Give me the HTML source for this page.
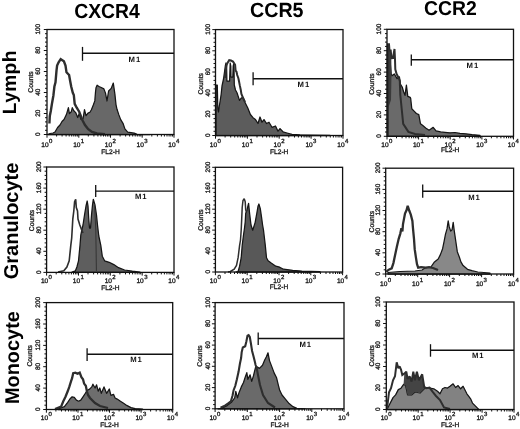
<!DOCTYPE html>
<html><head><meta charset="utf-8"><style>
html,body{margin:0;padding:0;background:#fff;overflow:hidden;}
svg{display:block;font-family:"Liberation Sans", sans-serif;will-change:transform;text-rendering:geometricPrecision;}
</style></head><body>
<svg width="520" height="429" viewBox="0 0 520 429">
<rect width="520" height="429" fill="#fff"/>
<polygon points="48.0,134.5 48.0,134.5 50.0,133.5 53.0,133.0 55.0,132.0 57.6,127.5 60.0,125.0 62.0,121.5 64.0,119.5 66.4,114.6 68.4,107.7 69.4,113.6 71.3,111.7 72.3,107.7 73.8,110.7 75.7,112.6 77.7,117.5 79.2,113.6 81.1,119.5 83.1,118.5 84.5,109.7 86.0,115.6 88.0,113.1 89.9,112.2 91.4,109.7 93.4,104.8 94.8,100.9 95.5,92.0 96.0,87.8 97.1,85.2 99.0,86.5 100.7,87.3 103.9,88.9 105.5,93.1 107.0,101.0 108.6,91.0 111.2,88.4 113.3,83.1 114.9,94.1 116.0,104.6 117.0,109.3 118.9,114.9 120.7,119.6 123.0,123.3 124.9,128.9 127.7,132.2 134.2,133.1 137.0,134.3 150.0,134.5 150.0,134.5" fill="#686868" stroke="#151515" stroke-width="1.25" stroke-linejoin="round"/>
<polyline points="49.4,123.5 49.8,116.0 50.8,111.0 51.9,104.0 53.4,95.5 54.4,86.5 55.5,82.3 56.5,70.7 57.1,65.5 58.6,62.3 60.7,59.2 63.9,61.3 65.5,65.5 66.5,72.3 69.1,75.0 70.2,81.2 71.2,86.5 72.8,92.8 73.8,95.0 74.7,103.8 76.7,107.7 79.2,111.7 81.1,116.6 82.6,120.5 85.0,125.0 88.0,129.0 92.0,132.0 97.0,133.5 105.0,134.3" fill="none" stroke="#2e2e2e" stroke-width="2.4" stroke-linejoin="miter" stroke-miterlimit="2"/>
<rect x="47" y="29.5" width="127" height="105.0" fill="none" stroke="#111" stroke-width="1.3"/>
<line x1="43.8" y1="134.5" x2="47" y2="134.5" stroke="#111" stroke-width="1"/>
<text x="0" y="0" transform="translate(40.3,134.2) rotate(-90)" font-size="6.5" text-anchor="middle" stroke="#222" stroke-width="0.32" fill="#111">0</text>
<line x1="45.0" y1="130.3" x2="47" y2="130.3" stroke="#111" stroke-width="1"/>
<line x1="45.0" y1="126.1" x2="47" y2="126.1" stroke="#111" stroke-width="1"/>
<line x1="45.0" y1="121.9" x2="47" y2="121.9" stroke="#111" stroke-width="1"/>
<line x1="45.0" y1="117.7" x2="47" y2="117.7" stroke="#111" stroke-width="1"/>
<line x1="43.8" y1="113.5" x2="47" y2="113.5" stroke="#111" stroke-width="1"/>
<text x="0" y="0" transform="translate(40.3,113.2) rotate(-90)" font-size="6.5" text-anchor="middle" stroke="#222" stroke-width="0.32" fill="#111">20</text>
<line x1="45.0" y1="109.3" x2="47" y2="109.3" stroke="#111" stroke-width="1"/>
<line x1="45.0" y1="105.1" x2="47" y2="105.1" stroke="#111" stroke-width="1"/>
<line x1="45.0" y1="100.9" x2="47" y2="100.9" stroke="#111" stroke-width="1"/>
<line x1="45.0" y1="96.7" x2="47" y2="96.7" stroke="#111" stroke-width="1"/>
<line x1="43.8" y1="92.5" x2="47" y2="92.5" stroke="#111" stroke-width="1"/>
<text x="0" y="0" transform="translate(40.3,92.2) rotate(-90)" font-size="6.5" text-anchor="middle" stroke="#222" stroke-width="0.32" fill="#111">40</text>
<line x1="45.0" y1="88.3" x2="47" y2="88.3" stroke="#111" stroke-width="1"/>
<line x1="45.0" y1="84.1" x2="47" y2="84.1" stroke="#111" stroke-width="1"/>
<line x1="45.0" y1="79.9" x2="47" y2="79.9" stroke="#111" stroke-width="1"/>
<line x1="45.0" y1="75.7" x2="47" y2="75.7" stroke="#111" stroke-width="1"/>
<line x1="43.8" y1="71.5" x2="47" y2="71.5" stroke="#111" stroke-width="1"/>
<text x="0" y="0" transform="translate(40.3,71.2) rotate(-90)" font-size="6.5" text-anchor="middle" stroke="#222" stroke-width="0.32" fill="#111">60</text>
<line x1="45.0" y1="67.3" x2="47" y2="67.3" stroke="#111" stroke-width="1"/>
<line x1="45.0" y1="63.1" x2="47" y2="63.1" stroke="#111" stroke-width="1"/>
<line x1="45.0" y1="58.9" x2="47" y2="58.9" stroke="#111" stroke-width="1"/>
<line x1="45.0" y1="54.7" x2="47" y2="54.7" stroke="#111" stroke-width="1"/>
<line x1="43.8" y1="50.5" x2="47" y2="50.5" stroke="#111" stroke-width="1"/>
<text x="0" y="0" transform="translate(40.3,50.2) rotate(-90)" font-size="6.5" text-anchor="middle" stroke="#222" stroke-width="0.32" fill="#111">80</text>
<line x1="45.0" y1="46.3" x2="47" y2="46.3" stroke="#111" stroke-width="1"/>
<line x1="45.0" y1="42.1" x2="47" y2="42.1" stroke="#111" stroke-width="1"/>
<line x1="45.0" y1="37.9" x2="47" y2="37.9" stroke="#111" stroke-width="1"/>
<line x1="45.0" y1="33.7" x2="47" y2="33.7" stroke="#111" stroke-width="1"/>
<line x1="43.8" y1="29.5" x2="47" y2="29.5" stroke="#111" stroke-width="1"/>
<text x="0" y="0" transform="translate(40.3,29.2) rotate(-90)" font-size="6.5" text-anchor="middle" stroke="#222" stroke-width="0.32" fill="#111">100</text>
<text x="0" y="0" transform="translate(32.5,82.0) rotate(-90)" font-size="6.8" text-anchor="middle" stroke="#222" stroke-width="0.32" fill="#111">Counts</text>
<line x1="47.0" y1="134.5" x2="47.0" y2="137.7" stroke="#111" stroke-width="1"/>
<line x1="56.6" y1="134.5" x2="56.6" y2="136.5" stroke="#111" stroke-width="1"/>
<line x1="62.1" y1="134.5" x2="62.1" y2="136.5" stroke="#111" stroke-width="1"/>
<line x1="66.1" y1="134.5" x2="66.1" y2="136.5" stroke="#111" stroke-width="1"/>
<line x1="69.2" y1="134.5" x2="69.2" y2="136.5" stroke="#111" stroke-width="1"/>
<line x1="71.7" y1="134.5" x2="71.7" y2="136.5" stroke="#111" stroke-width="1"/>
<line x1="73.8" y1="134.5" x2="73.8" y2="136.5" stroke="#111" stroke-width="1"/>
<line x1="75.7" y1="134.5" x2="75.7" y2="136.5" stroke="#111" stroke-width="1"/>
<line x1="77.3" y1="134.5" x2="77.3" y2="136.5" stroke="#111" stroke-width="1"/>
<line x1="78.8" y1="134.5" x2="78.8" y2="137.7" stroke="#111" stroke-width="1"/>
<line x1="88.3" y1="134.5" x2="88.3" y2="136.5" stroke="#111" stroke-width="1"/>
<line x1="93.9" y1="134.5" x2="93.9" y2="136.5" stroke="#111" stroke-width="1"/>
<line x1="97.9" y1="134.5" x2="97.9" y2="136.5" stroke="#111" stroke-width="1"/>
<line x1="100.9" y1="134.5" x2="100.9" y2="136.5" stroke="#111" stroke-width="1"/>
<line x1="103.5" y1="134.5" x2="103.5" y2="136.5" stroke="#111" stroke-width="1"/>
<line x1="105.6" y1="134.5" x2="105.6" y2="136.5" stroke="#111" stroke-width="1"/>
<line x1="107.4" y1="134.5" x2="107.4" y2="136.5" stroke="#111" stroke-width="1"/>
<line x1="109.0" y1="134.5" x2="109.0" y2="136.5" stroke="#111" stroke-width="1"/>
<line x1="110.5" y1="134.5" x2="110.5" y2="137.7" stroke="#111" stroke-width="1"/>
<line x1="120.1" y1="134.5" x2="120.1" y2="136.5" stroke="#111" stroke-width="1"/>
<line x1="125.6" y1="134.5" x2="125.6" y2="136.5" stroke="#111" stroke-width="1"/>
<line x1="129.6" y1="134.5" x2="129.6" y2="136.5" stroke="#111" stroke-width="1"/>
<line x1="132.7" y1="134.5" x2="132.7" y2="136.5" stroke="#111" stroke-width="1"/>
<line x1="135.2" y1="134.5" x2="135.2" y2="136.5" stroke="#111" stroke-width="1"/>
<line x1="137.3" y1="134.5" x2="137.3" y2="136.5" stroke="#111" stroke-width="1"/>
<line x1="139.2" y1="134.5" x2="139.2" y2="136.5" stroke="#111" stroke-width="1"/>
<line x1="140.8" y1="134.5" x2="140.8" y2="136.5" stroke="#111" stroke-width="1"/>
<line x1="142.2" y1="134.5" x2="142.2" y2="137.7" stroke="#111" stroke-width="1"/>
<line x1="151.8" y1="134.5" x2="151.8" y2="136.5" stroke="#111" stroke-width="1"/>
<line x1="157.4" y1="134.5" x2="157.4" y2="136.5" stroke="#111" stroke-width="1"/>
<line x1="161.4" y1="134.5" x2="161.4" y2="136.5" stroke="#111" stroke-width="1"/>
<line x1="164.4" y1="134.5" x2="164.4" y2="136.5" stroke="#111" stroke-width="1"/>
<line x1="167.0" y1="134.5" x2="167.0" y2="136.5" stroke="#111" stroke-width="1"/>
<line x1="169.1" y1="134.5" x2="169.1" y2="136.5" stroke="#111" stroke-width="1"/>
<line x1="170.9" y1="134.5" x2="170.9" y2="136.5" stroke="#111" stroke-width="1"/>
<line x1="172.5" y1="134.5" x2="172.5" y2="136.5" stroke="#111" stroke-width="1"/>
<line x1="174" y1="134.5" x2="174" y2="137.7" stroke="#111" stroke-width="1"/>
<text x="48.7" y="146.5" font-size="6.6" text-anchor="end" stroke="#222" stroke-width="0.32" fill="#111">10</text>
<text x="49.0" y="142.5" font-size="6.0" stroke="#222" stroke-width="0.32" fill="#111">0</text>
<text x="80.5" y="146.5" font-size="6.6" text-anchor="end" stroke="#222" stroke-width="0.32" fill="#111">10</text>
<text x="80.8" y="142.5" font-size="6.0" stroke="#222" stroke-width="0.32" fill="#111">1</text>
<text x="112.2" y="146.5" font-size="6.6" text-anchor="end" stroke="#222" stroke-width="0.32" fill="#111">10</text>
<text x="112.5" y="142.5" font-size="6.0" stroke="#222" stroke-width="0.32" fill="#111">2</text>
<text x="143.9" y="146.5" font-size="6.6" text-anchor="end" stroke="#222" stroke-width="0.32" fill="#111">10</text>
<text x="144.2" y="142.5" font-size="6.0" stroke="#222" stroke-width="0.32" fill="#111">3</text>
<text x="175.7" y="146.5" font-size="6.6" text-anchor="end" stroke="#222" stroke-width="0.32" fill="#111">10</text>
<text x="176.0" y="142.5" font-size="6.0" stroke="#222" stroke-width="0.32" fill="#111">4</text>
<text x="110.5" y="153.7" font-size="6.6" text-anchor="middle" stroke="#222" stroke-width="0.32" fill="#111">FL2-H</text>
<line x1="82.5" y1="46.9" x2="82.5" y2="60.8" stroke="#111" stroke-width="1.3"/>
<line x1="82.5" y1="53.3" x2="174" y2="53.3" stroke="#111" stroke-width="1.4"/>
<text x="128.6" y="61.7" font-size="7.7" font-weight="bold" letter-spacing="0.9" fill="#111">M1</text>
<polygon points="216.0,135.5 216.0,85.0 217.3,85.0 217.8,108.0 218.5,112.0 219.3,106.0 220.3,100.0 221.2,94.0 222.0,86.0 223.5,79.0 224.5,72.0 225.3,66.0 226.0,63.0 226.6,66.0 226.9,81.0 229.6,81.0 230.2,63.0 230.8,66.0 231.0,77.0 232.8,77.0 233.2,66.0 233.6,64.0 234.0,68.0 234.3,85.0 235.5,90.0 237.0,92.7 239.5,100.4 241.4,97.8 243.3,97.8 245.3,103.0 247.8,108.0 250.4,114.5 253.0,117.7 255.5,119.6 258.0,123.5 260.0,117.0 262.0,122.2 264.0,119.6 266.5,123.5 269.0,122.2 272.0,127.3 275.5,126.0 278.0,131.2 280.0,128.6 283.0,131.8 287.0,133.0 292.0,134.4 300.0,134.8 310.0,135.0 330.0,135.3 330.0,135.5" fill="#5c5c5c" stroke="#151515" stroke-width="1.25" stroke-linejoin="round"/>
<polyline points="225.3,78.0 225.6,72.5 226.2,66.5 227.2,63.4 229.2,60.2 231.0,60.5 233.0,61.6 235.1,64.8 235.6,70.7 236.5,71.8 237.2,75.0 238.3,78.0 238.8,80.2 239.8,85.4 240.8,90.0 241.4,94.0 243.5,99.0 245.0,102.0" fill="none" stroke="#2e2e2e" stroke-width="2.0" stroke-linejoin="miter" stroke-miterlimit="2"/>
<rect x="215.5" y="29.6" width="127.5" height="105.9" fill="none" stroke="#111" stroke-width="1.3"/>
<line x1="212.3" y1="135.5" x2="215.5" y2="135.5" stroke="#111" stroke-width="1"/>
<text x="0" y="0" transform="translate(210.0,135.2) rotate(-90)" font-size="6.5" text-anchor="middle" stroke="#222" stroke-width="0.32" fill="#111">0</text>
<line x1="213.5" y1="131.3" x2="215.5" y2="131.3" stroke="#111" stroke-width="1"/>
<line x1="213.5" y1="127.0" x2="215.5" y2="127.0" stroke="#111" stroke-width="1"/>
<line x1="213.5" y1="122.8" x2="215.5" y2="122.8" stroke="#111" stroke-width="1"/>
<line x1="213.5" y1="118.6" x2="215.5" y2="118.6" stroke="#111" stroke-width="1"/>
<line x1="212.3" y1="114.3" x2="215.5" y2="114.3" stroke="#111" stroke-width="1"/>
<text x="0" y="0" transform="translate(210.0,114.0) rotate(-90)" font-size="6.5" text-anchor="middle" stroke="#222" stroke-width="0.32" fill="#111">20</text>
<line x1="213.5" y1="110.1" x2="215.5" y2="110.1" stroke="#111" stroke-width="1"/>
<line x1="213.5" y1="105.8" x2="215.5" y2="105.8" stroke="#111" stroke-width="1"/>
<line x1="213.5" y1="101.6" x2="215.5" y2="101.6" stroke="#111" stroke-width="1"/>
<line x1="213.5" y1="97.4" x2="215.5" y2="97.4" stroke="#111" stroke-width="1"/>
<line x1="212.3" y1="93.1" x2="215.5" y2="93.1" stroke="#111" stroke-width="1"/>
<text x="0" y="0" transform="translate(210.0,92.8) rotate(-90)" font-size="6.5" text-anchor="middle" stroke="#222" stroke-width="0.32" fill="#111">40</text>
<line x1="213.5" y1="88.9" x2="215.5" y2="88.9" stroke="#111" stroke-width="1"/>
<line x1="213.5" y1="84.7" x2="215.5" y2="84.7" stroke="#111" stroke-width="1"/>
<line x1="213.5" y1="80.4" x2="215.5" y2="80.4" stroke="#111" stroke-width="1"/>
<line x1="213.5" y1="76.2" x2="215.5" y2="76.2" stroke="#111" stroke-width="1"/>
<line x1="212.3" y1="72.0" x2="215.5" y2="72.0" stroke="#111" stroke-width="1"/>
<text x="0" y="0" transform="translate(210.0,71.7) rotate(-90)" font-size="6.5" text-anchor="middle" stroke="#222" stroke-width="0.32" fill="#111">60</text>
<line x1="213.5" y1="67.7" x2="215.5" y2="67.7" stroke="#111" stroke-width="1"/>
<line x1="213.5" y1="63.5" x2="215.5" y2="63.5" stroke="#111" stroke-width="1"/>
<line x1="213.5" y1="59.3" x2="215.5" y2="59.3" stroke="#111" stroke-width="1"/>
<line x1="213.5" y1="55.0" x2="215.5" y2="55.0" stroke="#111" stroke-width="1"/>
<line x1="212.3" y1="50.8" x2="215.5" y2="50.8" stroke="#111" stroke-width="1"/>
<text x="0" y="0" transform="translate(210.0,50.5) rotate(-90)" font-size="6.5" text-anchor="middle" stroke="#222" stroke-width="0.32" fill="#111">80</text>
<line x1="213.5" y1="46.5" x2="215.5" y2="46.5" stroke="#111" stroke-width="1"/>
<line x1="213.5" y1="42.3" x2="215.5" y2="42.3" stroke="#111" stroke-width="1"/>
<line x1="213.5" y1="38.1" x2="215.5" y2="38.1" stroke="#111" stroke-width="1"/>
<line x1="213.5" y1="33.8" x2="215.5" y2="33.8" stroke="#111" stroke-width="1"/>
<line x1="212.3" y1="29.6" x2="215.5" y2="29.6" stroke="#111" stroke-width="1"/>
<text x="0" y="0" transform="translate(210.0,29.3) rotate(-90)" font-size="6.5" text-anchor="middle" stroke="#222" stroke-width="0.32" fill="#111">100</text>
<text x="0" y="0" transform="translate(202.5,83.8) rotate(-90)" font-size="6.8" text-anchor="middle" stroke="#222" stroke-width="0.32" fill="#111">Counts</text>
<line x1="215.5" y1="135.5" x2="215.5" y2="138.7" stroke="#111" stroke-width="1"/>
<line x1="225.1" y1="135.5" x2="225.1" y2="137.5" stroke="#111" stroke-width="1"/>
<line x1="230.7" y1="135.5" x2="230.7" y2="137.5" stroke="#111" stroke-width="1"/>
<line x1="234.7" y1="135.5" x2="234.7" y2="137.5" stroke="#111" stroke-width="1"/>
<line x1="237.8" y1="135.5" x2="237.8" y2="137.5" stroke="#111" stroke-width="1"/>
<line x1="240.3" y1="135.5" x2="240.3" y2="137.5" stroke="#111" stroke-width="1"/>
<line x1="242.4" y1="135.5" x2="242.4" y2="137.5" stroke="#111" stroke-width="1"/>
<line x1="244.3" y1="135.5" x2="244.3" y2="137.5" stroke="#111" stroke-width="1"/>
<line x1="245.9" y1="135.5" x2="245.9" y2="137.5" stroke="#111" stroke-width="1"/>
<line x1="247.4" y1="135.5" x2="247.4" y2="138.7" stroke="#111" stroke-width="1"/>
<line x1="257.0" y1="135.5" x2="257.0" y2="137.5" stroke="#111" stroke-width="1"/>
<line x1="262.6" y1="135.5" x2="262.6" y2="137.5" stroke="#111" stroke-width="1"/>
<line x1="266.6" y1="135.5" x2="266.6" y2="137.5" stroke="#111" stroke-width="1"/>
<line x1="269.7" y1="135.5" x2="269.7" y2="137.5" stroke="#111" stroke-width="1"/>
<line x1="272.2" y1="135.5" x2="272.2" y2="137.5" stroke="#111" stroke-width="1"/>
<line x1="274.3" y1="135.5" x2="274.3" y2="137.5" stroke="#111" stroke-width="1"/>
<line x1="276.2" y1="135.5" x2="276.2" y2="137.5" stroke="#111" stroke-width="1"/>
<line x1="277.8" y1="135.5" x2="277.8" y2="137.5" stroke="#111" stroke-width="1"/>
<line x1="279.2" y1="135.5" x2="279.2" y2="138.7" stroke="#111" stroke-width="1"/>
<line x1="288.8" y1="135.5" x2="288.8" y2="137.5" stroke="#111" stroke-width="1"/>
<line x1="294.5" y1="135.5" x2="294.5" y2="137.5" stroke="#111" stroke-width="1"/>
<line x1="298.4" y1="135.5" x2="298.4" y2="137.5" stroke="#111" stroke-width="1"/>
<line x1="301.5" y1="135.5" x2="301.5" y2="137.5" stroke="#111" stroke-width="1"/>
<line x1="304.1" y1="135.5" x2="304.1" y2="137.5" stroke="#111" stroke-width="1"/>
<line x1="306.2" y1="135.5" x2="306.2" y2="137.5" stroke="#111" stroke-width="1"/>
<line x1="308.0" y1="135.5" x2="308.0" y2="137.5" stroke="#111" stroke-width="1"/>
<line x1="309.7" y1="135.5" x2="309.7" y2="137.5" stroke="#111" stroke-width="1"/>
<line x1="311.1" y1="135.5" x2="311.1" y2="138.7" stroke="#111" stroke-width="1"/>
<line x1="320.7" y1="135.5" x2="320.7" y2="137.5" stroke="#111" stroke-width="1"/>
<line x1="326.3" y1="135.5" x2="326.3" y2="137.5" stroke="#111" stroke-width="1"/>
<line x1="330.3" y1="135.5" x2="330.3" y2="137.5" stroke="#111" stroke-width="1"/>
<line x1="333.4" y1="135.5" x2="333.4" y2="137.5" stroke="#111" stroke-width="1"/>
<line x1="335.9" y1="135.5" x2="335.9" y2="137.5" stroke="#111" stroke-width="1"/>
<line x1="338.1" y1="135.5" x2="338.1" y2="137.5" stroke="#111" stroke-width="1"/>
<line x1="339.9" y1="135.5" x2="339.9" y2="137.5" stroke="#111" stroke-width="1"/>
<line x1="341.5" y1="135.5" x2="341.5" y2="137.5" stroke="#111" stroke-width="1"/>
<line x1="343" y1="135.5" x2="343" y2="138.7" stroke="#111" stroke-width="1"/>
<text x="217.2" y="147.0" font-size="6.6" text-anchor="end" stroke="#222" stroke-width="0.32" fill="#111">10</text>
<text x="217.5" y="143.0" font-size="6.0" stroke="#222" stroke-width="0.32" fill="#111">0</text>
<text x="249.1" y="147.0" font-size="6.6" text-anchor="end" stroke="#222" stroke-width="0.32" fill="#111">10</text>
<text x="249.4" y="143.0" font-size="6.0" stroke="#222" stroke-width="0.32" fill="#111">1</text>
<text x="280.9" y="147.0" font-size="6.6" text-anchor="end" stroke="#222" stroke-width="0.32" fill="#111">10</text>
<text x="281.2" y="143.0" font-size="6.0" stroke="#222" stroke-width="0.32" fill="#111">2</text>
<text x="312.8" y="147.0" font-size="6.6" text-anchor="end" stroke="#222" stroke-width="0.32" fill="#111">10</text>
<text x="313.1" y="143.0" font-size="6.0" stroke="#222" stroke-width="0.32" fill="#111">3</text>
<text x="344.7" y="147.0" font-size="6.6" text-anchor="end" stroke="#222" stroke-width="0.32" fill="#111">10</text>
<text x="345.0" y="143.0" font-size="6.0" stroke="#222" stroke-width="0.32" fill="#111">4</text>
<text x="279.2" y="153.8" font-size="6.6" text-anchor="middle" stroke="#222" stroke-width="0.32" fill="#111">FL2-H</text>
<line x1="253.1" y1="72.3" x2="253.1" y2="85.2" stroke="#111" stroke-width="1.3"/>
<line x1="253.1" y1="78.8" x2="343" y2="78.8" stroke="#111" stroke-width="1.4"/>
<text x="297.59999999999997" y="87.1" font-size="7.7" font-weight="bold" letter-spacing="0.9" fill="#111">M1</text>
<polygon points="387.5,136.3 387.5,47.0 389.0,48.0 389.8,55.0 390.5,66.0 391.2,74.0 392.0,75.8 394.3,74.0 397.1,78.6 399.4,76.8 400.4,84.2 402.2,87.0 403.6,91.7 405.0,95.4 406.4,85.2 407.8,96.3 410.2,97.3 410.7,98.5 411.8,108.8 414.1,111.1 416.4,113.5 418.8,114.6 420.5,123.8 422.8,125.6 425.7,127.9 429.1,130.2 433.2,127.3 436.0,130.8 440.7,131.9 445.0,132.3 450.0,132.8 455.0,132.5 460.0,133.3 466.0,133.8 472.0,134.6 480.0,135.3 480.0,136.3" fill="#6a6a6a" stroke="#151515" stroke-width="1.25" stroke-linejoin="round"/>
<polygon points="387.5,44.5 389,44.5 389.5,50.5 390.7,50.5 391.3,57 391.5,75 391,100 387.5,110" fill="#3a3a3a"/>
<polyline points="387.8,136.0 387.8,44.2 389.0,44.2 389.5,50.5 390.7,50.5 391.5,58.2 393.0,58.0 394.5,49.0 395.0,59.6 395.3,69.3 396.6,74.0 398.7,77.8 399.8,81.0 400.3,95.0 403.2,123.8 408.4,131.9 415.0,134.0 425.0,135.0" fill="none" stroke="#2e2e2e" stroke-width="2.0" stroke-linejoin="miter" stroke-miterlimit="2"/>
<rect x="387" y="29.3" width="126.5" height="107.00000000000001" fill="none" stroke="#111" stroke-width="1.3"/>
<line x1="383.8" y1="136.3" x2="387" y2="136.3" stroke="#111" stroke-width="1"/>
<text x="0" y="0" transform="translate(381.4,136.0) rotate(-90)" font-size="6.5" text-anchor="middle" stroke="#222" stroke-width="0.32" fill="#111">0</text>
<line x1="385.0" y1="132.0" x2="387" y2="132.0" stroke="#111" stroke-width="1"/>
<line x1="385.0" y1="127.7" x2="387" y2="127.7" stroke="#111" stroke-width="1"/>
<line x1="385.0" y1="123.5" x2="387" y2="123.5" stroke="#111" stroke-width="1"/>
<line x1="385.0" y1="119.2" x2="387" y2="119.2" stroke="#111" stroke-width="1"/>
<line x1="383.8" y1="114.9" x2="387" y2="114.9" stroke="#111" stroke-width="1"/>
<text x="0" y="0" transform="translate(381.4,114.6) rotate(-90)" font-size="6.5" text-anchor="middle" stroke="#222" stroke-width="0.32" fill="#111">20</text>
<line x1="385.0" y1="110.6" x2="387" y2="110.6" stroke="#111" stroke-width="1"/>
<line x1="385.0" y1="106.3" x2="387" y2="106.3" stroke="#111" stroke-width="1"/>
<line x1="385.0" y1="102.1" x2="387" y2="102.1" stroke="#111" stroke-width="1"/>
<line x1="385.0" y1="97.8" x2="387" y2="97.8" stroke="#111" stroke-width="1"/>
<line x1="383.8" y1="93.5" x2="387" y2="93.5" stroke="#111" stroke-width="1"/>
<text x="0" y="0" transform="translate(381.4,93.2) rotate(-90)" font-size="6.5" text-anchor="middle" stroke="#222" stroke-width="0.32" fill="#111">40</text>
<line x1="385.0" y1="89.2" x2="387" y2="89.2" stroke="#111" stroke-width="1"/>
<line x1="385.0" y1="84.9" x2="387" y2="84.9" stroke="#111" stroke-width="1"/>
<line x1="385.0" y1="80.7" x2="387" y2="80.7" stroke="#111" stroke-width="1"/>
<line x1="385.0" y1="76.4" x2="387" y2="76.4" stroke="#111" stroke-width="1"/>
<line x1="383.8" y1="72.1" x2="387" y2="72.1" stroke="#111" stroke-width="1"/>
<text x="0" y="0" transform="translate(381.4,71.8) rotate(-90)" font-size="6.5" text-anchor="middle" stroke="#222" stroke-width="0.32" fill="#111">60</text>
<line x1="385.0" y1="67.8" x2="387" y2="67.8" stroke="#111" stroke-width="1"/>
<line x1="385.0" y1="63.5" x2="387" y2="63.5" stroke="#111" stroke-width="1"/>
<line x1="385.0" y1="59.3" x2="387" y2="59.3" stroke="#111" stroke-width="1"/>
<line x1="385.0" y1="55.0" x2="387" y2="55.0" stroke="#111" stroke-width="1"/>
<line x1="383.8" y1="50.7" x2="387" y2="50.7" stroke="#111" stroke-width="1"/>
<text x="0" y="0" transform="translate(381.4,50.4) rotate(-90)" font-size="6.5" text-anchor="middle" stroke="#222" stroke-width="0.32" fill="#111">80</text>
<line x1="385.0" y1="46.4" x2="387" y2="46.4" stroke="#111" stroke-width="1"/>
<line x1="385.0" y1="42.1" x2="387" y2="42.1" stroke="#111" stroke-width="1"/>
<line x1="385.0" y1="37.9" x2="387" y2="37.9" stroke="#111" stroke-width="1"/>
<line x1="385.0" y1="33.6" x2="387" y2="33.6" stroke="#111" stroke-width="1"/>
<line x1="383.8" y1="29.3" x2="387" y2="29.3" stroke="#111" stroke-width="1"/>
<text x="0" y="0" transform="translate(381.4,29.0) rotate(-90)" font-size="6.5" text-anchor="middle" stroke="#222" stroke-width="0.32" fill="#111">100</text>
<text x="0" y="0" transform="translate(374.3,84.1) rotate(-90)" font-size="6.8" text-anchor="middle" stroke="#222" stroke-width="0.32" fill="#111">Counts</text>
<line x1="387.0" y1="136.3" x2="387.0" y2="139.5" stroke="#111" stroke-width="1"/>
<line x1="396.5" y1="136.3" x2="396.5" y2="138.3" stroke="#111" stroke-width="1"/>
<line x1="402.1" y1="136.3" x2="402.1" y2="138.3" stroke="#111" stroke-width="1"/>
<line x1="406.0" y1="136.3" x2="406.0" y2="138.3" stroke="#111" stroke-width="1"/>
<line x1="409.1" y1="136.3" x2="409.1" y2="138.3" stroke="#111" stroke-width="1"/>
<line x1="411.6" y1="136.3" x2="411.6" y2="138.3" stroke="#111" stroke-width="1"/>
<line x1="413.7" y1="136.3" x2="413.7" y2="138.3" stroke="#111" stroke-width="1"/>
<line x1="415.6" y1="136.3" x2="415.6" y2="138.3" stroke="#111" stroke-width="1"/>
<line x1="417.2" y1="136.3" x2="417.2" y2="138.3" stroke="#111" stroke-width="1"/>
<line x1="418.6" y1="136.3" x2="418.6" y2="139.5" stroke="#111" stroke-width="1"/>
<line x1="428.1" y1="136.3" x2="428.1" y2="138.3" stroke="#111" stroke-width="1"/>
<line x1="433.7" y1="136.3" x2="433.7" y2="138.3" stroke="#111" stroke-width="1"/>
<line x1="437.7" y1="136.3" x2="437.7" y2="138.3" stroke="#111" stroke-width="1"/>
<line x1="440.7" y1="136.3" x2="440.7" y2="138.3" stroke="#111" stroke-width="1"/>
<line x1="443.2" y1="136.3" x2="443.2" y2="138.3" stroke="#111" stroke-width="1"/>
<line x1="445.4" y1="136.3" x2="445.4" y2="138.3" stroke="#111" stroke-width="1"/>
<line x1="447.2" y1="136.3" x2="447.2" y2="138.3" stroke="#111" stroke-width="1"/>
<line x1="448.8" y1="136.3" x2="448.8" y2="138.3" stroke="#111" stroke-width="1"/>
<line x1="450.2" y1="136.3" x2="450.2" y2="139.5" stroke="#111" stroke-width="1"/>
<line x1="459.8" y1="136.3" x2="459.8" y2="138.3" stroke="#111" stroke-width="1"/>
<line x1="465.3" y1="136.3" x2="465.3" y2="138.3" stroke="#111" stroke-width="1"/>
<line x1="469.3" y1="136.3" x2="469.3" y2="138.3" stroke="#111" stroke-width="1"/>
<line x1="472.4" y1="136.3" x2="472.4" y2="138.3" stroke="#111" stroke-width="1"/>
<line x1="474.9" y1="136.3" x2="474.9" y2="138.3" stroke="#111" stroke-width="1"/>
<line x1="477.0" y1="136.3" x2="477.0" y2="138.3" stroke="#111" stroke-width="1"/>
<line x1="478.8" y1="136.3" x2="478.8" y2="138.3" stroke="#111" stroke-width="1"/>
<line x1="480.4" y1="136.3" x2="480.4" y2="138.3" stroke="#111" stroke-width="1"/>
<line x1="481.9" y1="136.3" x2="481.9" y2="139.5" stroke="#111" stroke-width="1"/>
<line x1="491.4" y1="136.3" x2="491.4" y2="138.3" stroke="#111" stroke-width="1"/>
<line x1="497.0" y1="136.3" x2="497.0" y2="138.3" stroke="#111" stroke-width="1"/>
<line x1="500.9" y1="136.3" x2="500.9" y2="138.3" stroke="#111" stroke-width="1"/>
<line x1="504.0" y1="136.3" x2="504.0" y2="138.3" stroke="#111" stroke-width="1"/>
<line x1="506.5" y1="136.3" x2="506.5" y2="138.3" stroke="#111" stroke-width="1"/>
<line x1="508.6" y1="136.3" x2="508.6" y2="138.3" stroke="#111" stroke-width="1"/>
<line x1="510.4" y1="136.3" x2="510.4" y2="138.3" stroke="#111" stroke-width="1"/>
<line x1="512.1" y1="136.3" x2="512.1" y2="138.3" stroke="#111" stroke-width="1"/>
<line x1="513.5" y1="136.3" x2="513.5" y2="139.5" stroke="#111" stroke-width="1"/>
<text x="388.7" y="146.5" font-size="6.6" text-anchor="end" stroke="#222" stroke-width="0.32" fill="#111">10</text>
<text x="389.0" y="142.5" font-size="6.0" stroke="#222" stroke-width="0.32" fill="#111">0</text>
<text x="420.3" y="146.5" font-size="6.6" text-anchor="end" stroke="#222" stroke-width="0.32" fill="#111">10</text>
<text x="420.6" y="142.5" font-size="6.0" stroke="#222" stroke-width="0.32" fill="#111">1</text>
<text x="451.9" y="146.5" font-size="6.6" text-anchor="end" stroke="#222" stroke-width="0.32" fill="#111">10</text>
<text x="452.2" y="142.5" font-size="6.0" stroke="#222" stroke-width="0.32" fill="#111">2</text>
<text x="483.6" y="146.5" font-size="6.6" text-anchor="end" stroke="#222" stroke-width="0.32" fill="#111">10</text>
<text x="483.9" y="142.5" font-size="6.0" stroke="#222" stroke-width="0.32" fill="#111">3</text>
<text x="515.2" y="146.5" font-size="6.6" text-anchor="end" stroke="#222" stroke-width="0.32" fill="#111">10</text>
<text x="515.5" y="142.5" font-size="6.0" stroke="#222" stroke-width="0.32" fill="#111">4</text>
<text x="450.2" y="152.0" font-size="6.6" text-anchor="middle" stroke="#222" stroke-width="0.32" fill="#111">FL2-H</text>
<line x1="411.3" y1="54.5" x2="411.3" y2="65.7" stroke="#111" stroke-width="1.3"/>
<line x1="411.3" y1="59.8" x2="513.5" y2="59.8" stroke="#111" stroke-width="1.4"/>
<text x="466.59999999999997" y="67.8" font-size="7.7" font-weight="bold" letter-spacing="0.9" fill="#111">M1</text>
<polygon points="72.0,272.4 72.0,272.0 75.4,270.8 76.9,267.0 78.5,260.8 80.0,245.4 80.8,235.0 81.8,230.0 83.0,225.0 84.5,215.0 86.0,206.0 87.2,201.0 88.0,206.0 88.7,218.0 89.5,228.0 90.5,228.0 91.5,215.0 92.5,205.0 93.3,199.3 95.0,205.0 96.5,215.0 97.5,225.0 98.8,236.0 100.8,245.4 102.3,256.2 104.6,260.8 109.2,262.3 113.8,264.6 118.5,267.7 124.6,270.0 132.3,271.2 140.0,272.0 140.0,272.4" fill="#5e5e5e" stroke="#151515" stroke-width="1.25" stroke-linejoin="round"/>
<polyline points="94.5,204 95.8,230 96.4,271" fill="none" stroke="#333" stroke-width="1"/>
<polyline points="58.0,272.0 63.8,270.8 66.9,267.0 69.2,260.8 70.8,245.4 71.7,238.0 72.8,219.1 73.8,211.0 74.6,201.7 75.7,199.3 76.3,207.5 77.5,211.0 78.0,219.1 79.8,225.0 81.6,229.6 83.0,233.0" fill="none" stroke="#2e2e2e" stroke-width="1.6" stroke-linejoin="miter" stroke-miterlimit="2"/>
<rect x="46.6" y="167" width="127.4" height="105.39999999999998" fill="none" stroke="#111" stroke-width="1.3"/>
<line x1="43.4" y1="272.4" x2="46.6" y2="272.4" stroke="#111" stroke-width="1"/>
<text x="0" y="0" transform="translate(40.9,272.1) rotate(-90)" font-size="6.5" text-anchor="middle" stroke="#222" stroke-width="0.32" fill="#111">0</text>
<line x1="44.6" y1="268.2" x2="46.6" y2="268.2" stroke="#111" stroke-width="1"/>
<line x1="44.6" y1="264.0" x2="46.6" y2="264.0" stroke="#111" stroke-width="1"/>
<line x1="44.6" y1="259.8" x2="46.6" y2="259.8" stroke="#111" stroke-width="1"/>
<line x1="44.6" y1="255.5" x2="46.6" y2="255.5" stroke="#111" stroke-width="1"/>
<line x1="43.4" y1="251.3" x2="46.6" y2="251.3" stroke="#111" stroke-width="1"/>
<text x="0" y="0" transform="translate(40.9,251.0) rotate(-90)" font-size="6.5" text-anchor="middle" stroke="#222" stroke-width="0.32" fill="#111">40</text>
<line x1="44.6" y1="247.1" x2="46.6" y2="247.1" stroke="#111" stroke-width="1"/>
<line x1="44.6" y1="242.9" x2="46.6" y2="242.9" stroke="#111" stroke-width="1"/>
<line x1="44.6" y1="238.7" x2="46.6" y2="238.7" stroke="#111" stroke-width="1"/>
<line x1="44.6" y1="234.5" x2="46.6" y2="234.5" stroke="#111" stroke-width="1"/>
<line x1="43.4" y1="230.2" x2="46.6" y2="230.2" stroke="#111" stroke-width="1"/>
<text x="0" y="0" transform="translate(40.9,229.9) rotate(-90)" font-size="6.5" text-anchor="middle" stroke="#222" stroke-width="0.32" fill="#111">80</text>
<line x1="44.6" y1="226.0" x2="46.6" y2="226.0" stroke="#111" stroke-width="1"/>
<line x1="44.6" y1="221.8" x2="46.6" y2="221.8" stroke="#111" stroke-width="1"/>
<line x1="44.6" y1="217.6" x2="46.6" y2="217.6" stroke="#111" stroke-width="1"/>
<line x1="44.6" y1="213.4" x2="46.6" y2="213.4" stroke="#111" stroke-width="1"/>
<line x1="43.4" y1="209.2" x2="46.6" y2="209.2" stroke="#111" stroke-width="1"/>
<text x="0" y="0" transform="translate(40.9,208.9) rotate(-90)" font-size="6.5" text-anchor="middle" stroke="#222" stroke-width="0.32" fill="#111">120</text>
<line x1="44.6" y1="204.9" x2="46.6" y2="204.9" stroke="#111" stroke-width="1"/>
<line x1="44.6" y1="200.7" x2="46.6" y2="200.7" stroke="#111" stroke-width="1"/>
<line x1="44.6" y1="196.5" x2="46.6" y2="196.5" stroke="#111" stroke-width="1"/>
<line x1="44.6" y1="192.3" x2="46.6" y2="192.3" stroke="#111" stroke-width="1"/>
<line x1="43.4" y1="188.1" x2="46.6" y2="188.1" stroke="#111" stroke-width="1"/>
<text x="0" y="0" transform="translate(40.9,187.8) rotate(-90)" font-size="6.5" text-anchor="middle" stroke="#222" stroke-width="0.32" fill="#111">160</text>
<line x1="44.6" y1="183.9" x2="46.6" y2="183.9" stroke="#111" stroke-width="1"/>
<line x1="44.6" y1="179.6" x2="46.6" y2="179.6" stroke="#111" stroke-width="1"/>
<line x1="44.6" y1="175.4" x2="46.6" y2="175.4" stroke="#111" stroke-width="1"/>
<line x1="44.6" y1="171.2" x2="46.6" y2="171.2" stroke="#111" stroke-width="1"/>
<line x1="43.4" y1="167.0" x2="46.6" y2="167.0" stroke="#111" stroke-width="1"/>
<text x="0" y="0" transform="translate(40.9,166.7) rotate(-90)" font-size="6.5" text-anchor="middle" stroke="#222" stroke-width="0.32" fill="#111">200</text>
<text x="0" y="0" transform="translate(33.9,220.5) rotate(-90)" font-size="6.8" text-anchor="middle" stroke="#222" stroke-width="0.32" fill="#111">Counts</text>
<line x1="46.6" y1="272.4" x2="46.6" y2="275.6" stroke="#111" stroke-width="1"/>
<line x1="56.2" y1="272.4" x2="56.2" y2="274.4" stroke="#111" stroke-width="1"/>
<line x1="61.8" y1="272.4" x2="61.8" y2="274.4" stroke="#111" stroke-width="1"/>
<line x1="65.8" y1="272.4" x2="65.8" y2="274.4" stroke="#111" stroke-width="1"/>
<line x1="68.9" y1="272.4" x2="68.9" y2="274.4" stroke="#111" stroke-width="1"/>
<line x1="71.4" y1="272.4" x2="71.4" y2="274.4" stroke="#111" stroke-width="1"/>
<line x1="73.5" y1="272.4" x2="73.5" y2="274.4" stroke="#111" stroke-width="1"/>
<line x1="75.4" y1="272.4" x2="75.4" y2="274.4" stroke="#111" stroke-width="1"/>
<line x1="77.0" y1="272.4" x2="77.0" y2="274.4" stroke="#111" stroke-width="1"/>
<line x1="78.5" y1="272.4" x2="78.5" y2="275.6" stroke="#111" stroke-width="1"/>
<line x1="88.0" y1="272.4" x2="88.0" y2="274.4" stroke="#111" stroke-width="1"/>
<line x1="93.6" y1="272.4" x2="93.6" y2="274.4" stroke="#111" stroke-width="1"/>
<line x1="97.6" y1="272.4" x2="97.6" y2="274.4" stroke="#111" stroke-width="1"/>
<line x1="100.7" y1="272.4" x2="100.7" y2="274.4" stroke="#111" stroke-width="1"/>
<line x1="103.2" y1="272.4" x2="103.2" y2="274.4" stroke="#111" stroke-width="1"/>
<line x1="105.4" y1="272.4" x2="105.4" y2="274.4" stroke="#111" stroke-width="1"/>
<line x1="107.2" y1="272.4" x2="107.2" y2="274.4" stroke="#111" stroke-width="1"/>
<line x1="108.8" y1="272.4" x2="108.8" y2="274.4" stroke="#111" stroke-width="1"/>
<line x1="110.3" y1="272.4" x2="110.3" y2="275.6" stroke="#111" stroke-width="1"/>
<line x1="119.9" y1="272.4" x2="119.9" y2="274.4" stroke="#111" stroke-width="1"/>
<line x1="125.5" y1="272.4" x2="125.5" y2="274.4" stroke="#111" stroke-width="1"/>
<line x1="129.5" y1="272.4" x2="129.5" y2="274.4" stroke="#111" stroke-width="1"/>
<line x1="132.6" y1="272.4" x2="132.6" y2="274.4" stroke="#111" stroke-width="1"/>
<line x1="135.1" y1="272.4" x2="135.1" y2="274.4" stroke="#111" stroke-width="1"/>
<line x1="137.2" y1="272.4" x2="137.2" y2="274.4" stroke="#111" stroke-width="1"/>
<line x1="139.1" y1="272.4" x2="139.1" y2="274.4" stroke="#111" stroke-width="1"/>
<line x1="140.7" y1="272.4" x2="140.7" y2="274.4" stroke="#111" stroke-width="1"/>
<line x1="142.2" y1="272.4" x2="142.2" y2="275.6" stroke="#111" stroke-width="1"/>
<line x1="151.7" y1="272.4" x2="151.7" y2="274.4" stroke="#111" stroke-width="1"/>
<line x1="157.3" y1="272.4" x2="157.3" y2="274.4" stroke="#111" stroke-width="1"/>
<line x1="161.3" y1="272.4" x2="161.3" y2="274.4" stroke="#111" stroke-width="1"/>
<line x1="164.4" y1="272.4" x2="164.4" y2="274.4" stroke="#111" stroke-width="1"/>
<line x1="166.9" y1="272.4" x2="166.9" y2="274.4" stroke="#111" stroke-width="1"/>
<line x1="169.1" y1="272.4" x2="169.1" y2="274.4" stroke="#111" stroke-width="1"/>
<line x1="170.9" y1="272.4" x2="170.9" y2="274.4" stroke="#111" stroke-width="1"/>
<line x1="172.5" y1="272.4" x2="172.5" y2="274.4" stroke="#111" stroke-width="1"/>
<line x1="174" y1="272.4" x2="174" y2="275.6" stroke="#111" stroke-width="1"/>
<text x="48.3" y="283.0" font-size="6.6" text-anchor="end" stroke="#222" stroke-width="0.32" fill="#111">10</text>
<text x="48.6" y="279.0" font-size="6.0" stroke="#222" stroke-width="0.32" fill="#111">0</text>
<text x="80.2" y="283.0" font-size="6.6" text-anchor="end" stroke="#222" stroke-width="0.32" fill="#111">10</text>
<text x="80.5" y="279.0" font-size="6.0" stroke="#222" stroke-width="0.32" fill="#111">1</text>
<text x="112.0" y="283.0" font-size="6.6" text-anchor="end" stroke="#222" stroke-width="0.32" fill="#111">10</text>
<text x="112.3" y="279.0" font-size="6.0" stroke="#222" stroke-width="0.32" fill="#111">2</text>
<text x="143.8" y="283.0" font-size="6.6" text-anchor="end" stroke="#222" stroke-width="0.32" fill="#111">10</text>
<text x="144.2" y="279.0" font-size="6.0" stroke="#222" stroke-width="0.32" fill="#111">3</text>
<text x="175.7" y="283.0" font-size="6.6" text-anchor="end" stroke="#222" stroke-width="0.32" fill="#111">10</text>
<text x="176.0" y="279.0" font-size="6.0" stroke="#222" stroke-width="0.32" fill="#111">4</text>
<text x="110.3" y="289.7" font-size="6.6" text-anchor="middle" stroke="#222" stroke-width="0.32" fill="#111">FL2-H</text>
<line x1="95.7" y1="185" x2="95.7" y2="197.1" stroke="#111" stroke-width="1.3"/>
<line x1="95.7" y1="191.1" x2="174" y2="191.1" stroke="#111" stroke-width="1.4"/>
<text x="134.89999999999998" y="198.9" font-size="7.7" font-weight="bold" letter-spacing="0.9" fill="#111">M1</text>
<polygon points="236.0,272.0 236.0,272.0 238.1,271.5 239.6,266.2 241.2,257.7 242.2,245.4 243.5,235.0 244.5,228.0 245.2,222.0 245.7,213.3 246.9,210.4 248.1,205.2 248.6,203.4 249.6,213.3 251.0,225.0 252.7,230.2 255.1,222.6 256.8,213.3 258.0,206.3 258.9,204.0 260.3,208.6 261.5,216.8 262.6,225.0 263.5,230.0 265.3,245.4 266.5,257.7 268.1,260.8 271.2,263.1 275.8,266.2 278.8,266.9 283.5,269.2 292.7,270.3 301.9,271.0 320.0,271.5 320.0,272.0" fill="#585858" stroke="#151515" stroke-width="1.25" stroke-linejoin="round"/>
<polyline points="228.0,272.0 230.4,271.5 234.2,269.2 236.5,265.4 238.1,257.7 239.6,245.4 240.5,240.0 241.2,230.0 241.7,219.1 242.2,207.5 243.0,200.5 244.2,198.7 245.2,201.7 245.7,209.8 246.5,212.0" fill="none" stroke="#2e2e2e" stroke-width="1.5" stroke-linejoin="miter" stroke-miterlimit="2"/>
<rect x="215.4" y="167.3" width="127.20000000000002" height="104.69999999999999" fill="none" stroke="#111" stroke-width="1.3"/>
<line x1="212.2" y1="272.0" x2="215.4" y2="272.0" stroke="#111" stroke-width="1"/>
<text x="0" y="0" transform="translate(210.4,271.7) rotate(-90)" font-size="6.5" text-anchor="middle" stroke="#222" stroke-width="0.32" fill="#111">0</text>
<line x1="213.4" y1="267.8" x2="215.4" y2="267.8" stroke="#111" stroke-width="1"/>
<line x1="213.4" y1="263.6" x2="215.4" y2="263.6" stroke="#111" stroke-width="1"/>
<line x1="213.4" y1="259.4" x2="215.4" y2="259.4" stroke="#111" stroke-width="1"/>
<line x1="213.4" y1="255.2" x2="215.4" y2="255.2" stroke="#111" stroke-width="1"/>
<line x1="212.2" y1="251.1" x2="215.4" y2="251.1" stroke="#111" stroke-width="1"/>
<text x="0" y="0" transform="translate(210.4,250.8) rotate(-90)" font-size="6.5" text-anchor="middle" stroke="#222" stroke-width="0.32" fill="#111">40</text>
<line x1="213.4" y1="246.9" x2="215.4" y2="246.9" stroke="#111" stroke-width="1"/>
<line x1="213.4" y1="242.7" x2="215.4" y2="242.7" stroke="#111" stroke-width="1"/>
<line x1="213.4" y1="238.5" x2="215.4" y2="238.5" stroke="#111" stroke-width="1"/>
<line x1="213.4" y1="234.3" x2="215.4" y2="234.3" stroke="#111" stroke-width="1"/>
<line x1="212.2" y1="230.1" x2="215.4" y2="230.1" stroke="#111" stroke-width="1"/>
<text x="0" y="0" transform="translate(210.4,229.8) rotate(-90)" font-size="6.5" text-anchor="middle" stroke="#222" stroke-width="0.32" fill="#111">80</text>
<line x1="213.4" y1="225.9" x2="215.4" y2="225.9" stroke="#111" stroke-width="1"/>
<line x1="213.4" y1="221.7" x2="215.4" y2="221.7" stroke="#111" stroke-width="1"/>
<line x1="213.4" y1="217.6" x2="215.4" y2="217.6" stroke="#111" stroke-width="1"/>
<line x1="213.4" y1="213.4" x2="215.4" y2="213.4" stroke="#111" stroke-width="1"/>
<line x1="212.2" y1="209.2" x2="215.4" y2="209.2" stroke="#111" stroke-width="1"/>
<text x="0" y="0" transform="translate(210.4,208.9) rotate(-90)" font-size="6.5" text-anchor="middle" stroke="#222" stroke-width="0.32" fill="#111">120</text>
<line x1="213.4" y1="205.0" x2="215.4" y2="205.0" stroke="#111" stroke-width="1"/>
<line x1="213.4" y1="200.8" x2="215.4" y2="200.8" stroke="#111" stroke-width="1"/>
<line x1="213.4" y1="196.6" x2="215.4" y2="196.6" stroke="#111" stroke-width="1"/>
<line x1="213.4" y1="192.4" x2="215.4" y2="192.4" stroke="#111" stroke-width="1"/>
<line x1="212.2" y1="188.2" x2="215.4" y2="188.2" stroke="#111" stroke-width="1"/>
<text x="0" y="0" transform="translate(210.4,187.9) rotate(-90)" font-size="6.5" text-anchor="middle" stroke="#222" stroke-width="0.32" fill="#111">160</text>
<line x1="213.4" y1="184.1" x2="215.4" y2="184.1" stroke="#111" stroke-width="1"/>
<line x1="213.4" y1="179.9" x2="215.4" y2="179.9" stroke="#111" stroke-width="1"/>
<line x1="213.4" y1="175.7" x2="215.4" y2="175.7" stroke="#111" stroke-width="1"/>
<line x1="213.4" y1="171.5" x2="215.4" y2="171.5" stroke="#111" stroke-width="1"/>
<line x1="212.2" y1="167.3" x2="215.4" y2="167.3" stroke="#111" stroke-width="1"/>
<text x="0" y="0" transform="translate(210.4,167.0) rotate(-90)" font-size="6.5" text-anchor="middle" stroke="#222" stroke-width="0.32" fill="#111">200</text>
<text x="0" y="0" transform="translate(202.9,220.1) rotate(-90)" font-size="6.8" text-anchor="middle" stroke="#222" stroke-width="0.32" fill="#111">Counts</text>
<line x1="215.4" y1="272" x2="215.4" y2="275.2" stroke="#111" stroke-width="1"/>
<line x1="225.0" y1="272" x2="225.0" y2="274.0" stroke="#111" stroke-width="1"/>
<line x1="230.6" y1="272" x2="230.6" y2="274.0" stroke="#111" stroke-width="1"/>
<line x1="234.5" y1="272" x2="234.5" y2="274.0" stroke="#111" stroke-width="1"/>
<line x1="237.6" y1="272" x2="237.6" y2="274.0" stroke="#111" stroke-width="1"/>
<line x1="240.1" y1="272" x2="240.1" y2="274.0" stroke="#111" stroke-width="1"/>
<line x1="242.3" y1="272" x2="242.3" y2="274.0" stroke="#111" stroke-width="1"/>
<line x1="244.1" y1="272" x2="244.1" y2="274.0" stroke="#111" stroke-width="1"/>
<line x1="245.7" y1="272" x2="245.7" y2="274.0" stroke="#111" stroke-width="1"/>
<line x1="247.2" y1="272" x2="247.2" y2="275.2" stroke="#111" stroke-width="1"/>
<line x1="256.8" y1="272" x2="256.8" y2="274.0" stroke="#111" stroke-width="1"/>
<line x1="262.4" y1="272" x2="262.4" y2="274.0" stroke="#111" stroke-width="1"/>
<line x1="266.3" y1="272" x2="266.3" y2="274.0" stroke="#111" stroke-width="1"/>
<line x1="269.4" y1="272" x2="269.4" y2="274.0" stroke="#111" stroke-width="1"/>
<line x1="271.9" y1="272" x2="271.9" y2="274.0" stroke="#111" stroke-width="1"/>
<line x1="274.1" y1="272" x2="274.1" y2="274.0" stroke="#111" stroke-width="1"/>
<line x1="275.9" y1="272" x2="275.9" y2="274.0" stroke="#111" stroke-width="1"/>
<line x1="277.5" y1="272" x2="277.5" y2="274.0" stroke="#111" stroke-width="1"/>
<line x1="279.0" y1="272" x2="279.0" y2="275.2" stroke="#111" stroke-width="1"/>
<line x1="288.6" y1="272" x2="288.6" y2="274.0" stroke="#111" stroke-width="1"/>
<line x1="294.2" y1="272" x2="294.2" y2="274.0" stroke="#111" stroke-width="1"/>
<line x1="298.1" y1="272" x2="298.1" y2="274.0" stroke="#111" stroke-width="1"/>
<line x1="301.2" y1="272" x2="301.2" y2="274.0" stroke="#111" stroke-width="1"/>
<line x1="303.7" y1="272" x2="303.7" y2="274.0" stroke="#111" stroke-width="1"/>
<line x1="305.9" y1="272" x2="305.9" y2="274.0" stroke="#111" stroke-width="1"/>
<line x1="307.7" y1="272" x2="307.7" y2="274.0" stroke="#111" stroke-width="1"/>
<line x1="309.3" y1="272" x2="309.3" y2="274.0" stroke="#111" stroke-width="1"/>
<line x1="310.8" y1="272" x2="310.8" y2="275.2" stroke="#111" stroke-width="1"/>
<line x1="320.4" y1="272" x2="320.4" y2="274.0" stroke="#111" stroke-width="1"/>
<line x1="326.0" y1="272" x2="326.0" y2="274.0" stroke="#111" stroke-width="1"/>
<line x1="329.9" y1="272" x2="329.9" y2="274.0" stroke="#111" stroke-width="1"/>
<line x1="333.0" y1="272" x2="333.0" y2="274.0" stroke="#111" stroke-width="1"/>
<line x1="335.5" y1="272" x2="335.5" y2="274.0" stroke="#111" stroke-width="1"/>
<line x1="337.7" y1="272" x2="337.7" y2="274.0" stroke="#111" stroke-width="1"/>
<line x1="339.5" y1="272" x2="339.5" y2="274.0" stroke="#111" stroke-width="1"/>
<line x1="341.1" y1="272" x2="341.1" y2="274.0" stroke="#111" stroke-width="1"/>
<line x1="342.6" y1="272" x2="342.6" y2="275.2" stroke="#111" stroke-width="1"/>
<text x="217.1" y="282.6" font-size="6.6" text-anchor="end" stroke="#222" stroke-width="0.32" fill="#111">10</text>
<text x="217.4" y="278.6" font-size="6.0" stroke="#222" stroke-width="0.32" fill="#111">0</text>
<text x="248.9" y="282.6" font-size="6.6" text-anchor="end" stroke="#222" stroke-width="0.32" fill="#111">10</text>
<text x="249.2" y="278.6" font-size="6.0" stroke="#222" stroke-width="0.32" fill="#111">1</text>
<text x="280.7" y="282.6" font-size="6.6" text-anchor="end" stroke="#222" stroke-width="0.32" fill="#111">10</text>
<text x="281.0" y="278.6" font-size="6.0" stroke="#222" stroke-width="0.32" fill="#111">2</text>
<text x="312.5" y="282.6" font-size="6.6" text-anchor="end" stroke="#222" stroke-width="0.32" fill="#111">10</text>
<text x="312.8" y="278.6" font-size="6.0" stroke="#222" stroke-width="0.32" fill="#111">3</text>
<text x="344.3" y="282.6" font-size="6.6" text-anchor="end" stroke="#222" stroke-width="0.32" fill="#111">10</text>
<text x="344.6" y="278.6" font-size="6.0" stroke="#222" stroke-width="0.32" fill="#111">4</text>
<text x="279.0" y="288.8" font-size="6.6" text-anchor="middle" stroke="#222" stroke-width="0.32" fill="#111">FL2-H</text>
<polygon points="388.0,274.0 388.0,272.5 400.0,271.5 415.0,271.0 422.0,270.0 425.0,268.0 430.9,267.0 434.5,261.9 438.2,259.0 440.4,254.6 442.6,248.7 444.1,241.4 445.5,234.1 447.0,228.9 448.2,220.9 449.2,226.7 450.7,231.1 452.1,229.7 453.2,222.3 454.3,231.1 455.8,241.4 457.3,251.7 459.5,257.5 460.9,261.9 463.1,265.6 467.5,269.3 471.9,270.7 477.8,272.0 490.0,273.0 490.0,274.0" fill="#888888" stroke="#151515" stroke-width="1.25" stroke-linejoin="round"/>
<polyline points="386.5,272.0 387.6,270.6 389.3,269.4 391.7,268.3 393.4,263.1 395.1,255.0 396.8,246.9 398.7,238.8 400.3,233.6 401.4,228.3 402.4,231.5 403.0,224.1 404.0,218.9 405.0,213.6 406.6,210.0 407.7,205.8 409.2,210.5 410.8,214.7 412.4,221.0 412.9,227.3 414.0,238.8 414.7,249.2 415.9,257.3 417.0,264.2 418.2,267.7 421.1,267.1 425.7,267.7 429.1,267.1 433.0,268.0 438.0,270.0" fill="none" stroke="#2e2e2e" stroke-width="2.3" stroke-linejoin="miter" stroke-miterlimit="2"/>
<rect x="385.7" y="168.2" width="127.90000000000003" height="105.80000000000001" fill="none" stroke="#111" stroke-width="1.3"/>
<line x1="382.5" y1="274.0" x2="385.7" y2="274.0" stroke="#111" stroke-width="1"/>
<text x="0" y="0" transform="translate(380.4,273.7) rotate(-90)" font-size="6.5" text-anchor="middle" stroke="#222" stroke-width="0.32" fill="#111">0</text>
<line x1="383.7" y1="269.8" x2="385.7" y2="269.8" stroke="#111" stroke-width="1"/>
<line x1="383.7" y1="265.5" x2="385.7" y2="265.5" stroke="#111" stroke-width="1"/>
<line x1="383.7" y1="261.3" x2="385.7" y2="261.3" stroke="#111" stroke-width="1"/>
<line x1="383.7" y1="257.1" x2="385.7" y2="257.1" stroke="#111" stroke-width="1"/>
<line x1="382.5" y1="252.8" x2="385.7" y2="252.8" stroke="#111" stroke-width="1"/>
<text x="0" y="0" transform="translate(380.4,252.5) rotate(-90)" font-size="6.5" text-anchor="middle" stroke="#222" stroke-width="0.32" fill="#111">40</text>
<line x1="383.7" y1="248.6" x2="385.7" y2="248.6" stroke="#111" stroke-width="1"/>
<line x1="383.7" y1="244.4" x2="385.7" y2="244.4" stroke="#111" stroke-width="1"/>
<line x1="383.7" y1="240.1" x2="385.7" y2="240.1" stroke="#111" stroke-width="1"/>
<line x1="383.7" y1="235.9" x2="385.7" y2="235.9" stroke="#111" stroke-width="1"/>
<line x1="382.5" y1="231.7" x2="385.7" y2="231.7" stroke="#111" stroke-width="1"/>
<text x="0" y="0" transform="translate(380.4,231.4) rotate(-90)" font-size="6.5" text-anchor="middle" stroke="#222" stroke-width="0.32" fill="#111">80</text>
<line x1="383.7" y1="227.4" x2="385.7" y2="227.4" stroke="#111" stroke-width="1"/>
<line x1="383.7" y1="223.2" x2="385.7" y2="223.2" stroke="#111" stroke-width="1"/>
<line x1="383.7" y1="219.0" x2="385.7" y2="219.0" stroke="#111" stroke-width="1"/>
<line x1="383.7" y1="214.8" x2="385.7" y2="214.8" stroke="#111" stroke-width="1"/>
<line x1="382.5" y1="210.5" x2="385.7" y2="210.5" stroke="#111" stroke-width="1"/>
<text x="0" y="0" transform="translate(380.4,210.2) rotate(-90)" font-size="6.5" text-anchor="middle" stroke="#222" stroke-width="0.32" fill="#111">120</text>
<line x1="383.7" y1="206.3" x2="385.7" y2="206.3" stroke="#111" stroke-width="1"/>
<line x1="383.7" y1="202.1" x2="385.7" y2="202.1" stroke="#111" stroke-width="1"/>
<line x1="383.7" y1="197.8" x2="385.7" y2="197.8" stroke="#111" stroke-width="1"/>
<line x1="383.7" y1="193.6" x2="385.7" y2="193.6" stroke="#111" stroke-width="1"/>
<line x1="382.5" y1="189.4" x2="385.7" y2="189.4" stroke="#111" stroke-width="1"/>
<text x="0" y="0" transform="translate(380.4,189.1) rotate(-90)" font-size="6.5" text-anchor="middle" stroke="#222" stroke-width="0.32" fill="#111">160</text>
<line x1="383.7" y1="185.1" x2="385.7" y2="185.1" stroke="#111" stroke-width="1"/>
<line x1="383.7" y1="180.9" x2="385.7" y2="180.9" stroke="#111" stroke-width="1"/>
<line x1="383.7" y1="176.7" x2="385.7" y2="176.7" stroke="#111" stroke-width="1"/>
<line x1="383.7" y1="172.4" x2="385.7" y2="172.4" stroke="#111" stroke-width="1"/>
<line x1="382.5" y1="168.2" x2="385.7" y2="168.2" stroke="#111" stroke-width="1"/>
<text x="0" y="0" transform="translate(380.4,167.9) rotate(-90)" font-size="6.5" text-anchor="middle" stroke="#222" stroke-width="0.32" fill="#111">200</text>
<text x="0" y="0" transform="translate(373.9,221.7) rotate(-90)" font-size="6.8" text-anchor="middle" stroke="#222" stroke-width="0.32" fill="#111">Counts</text>
<line x1="385.7" y1="274" x2="385.7" y2="277.2" stroke="#111" stroke-width="1"/>
<line x1="395.3" y1="274" x2="395.3" y2="276.0" stroke="#111" stroke-width="1"/>
<line x1="401.0" y1="274" x2="401.0" y2="276.0" stroke="#111" stroke-width="1"/>
<line x1="405.0" y1="274" x2="405.0" y2="276.0" stroke="#111" stroke-width="1"/>
<line x1="408.0" y1="274" x2="408.0" y2="276.0" stroke="#111" stroke-width="1"/>
<line x1="410.6" y1="274" x2="410.6" y2="276.0" stroke="#111" stroke-width="1"/>
<line x1="412.7" y1="274" x2="412.7" y2="276.0" stroke="#111" stroke-width="1"/>
<line x1="414.6" y1="274" x2="414.6" y2="276.0" stroke="#111" stroke-width="1"/>
<line x1="416.2" y1="274" x2="416.2" y2="276.0" stroke="#111" stroke-width="1"/>
<line x1="417.7" y1="274" x2="417.7" y2="277.2" stroke="#111" stroke-width="1"/>
<line x1="427.3" y1="274" x2="427.3" y2="276.0" stroke="#111" stroke-width="1"/>
<line x1="432.9" y1="274" x2="432.9" y2="276.0" stroke="#111" stroke-width="1"/>
<line x1="436.9" y1="274" x2="436.9" y2="276.0" stroke="#111" stroke-width="1"/>
<line x1="440.0" y1="274" x2="440.0" y2="276.0" stroke="#111" stroke-width="1"/>
<line x1="442.6" y1="274" x2="442.6" y2="276.0" stroke="#111" stroke-width="1"/>
<line x1="444.7" y1="274" x2="444.7" y2="276.0" stroke="#111" stroke-width="1"/>
<line x1="446.6" y1="274" x2="446.6" y2="276.0" stroke="#111" stroke-width="1"/>
<line x1="448.2" y1="274" x2="448.2" y2="276.0" stroke="#111" stroke-width="1"/>
<line x1="449.6" y1="274" x2="449.6" y2="277.2" stroke="#111" stroke-width="1"/>
<line x1="459.3" y1="274" x2="459.3" y2="276.0" stroke="#111" stroke-width="1"/>
<line x1="464.9" y1="274" x2="464.9" y2="276.0" stroke="#111" stroke-width="1"/>
<line x1="468.9" y1="274" x2="468.9" y2="276.0" stroke="#111" stroke-width="1"/>
<line x1="472.0" y1="274" x2="472.0" y2="276.0" stroke="#111" stroke-width="1"/>
<line x1="474.5" y1="274" x2="474.5" y2="276.0" stroke="#111" stroke-width="1"/>
<line x1="476.7" y1="274" x2="476.7" y2="276.0" stroke="#111" stroke-width="1"/>
<line x1="478.5" y1="274" x2="478.5" y2="276.0" stroke="#111" stroke-width="1"/>
<line x1="480.2" y1="274" x2="480.2" y2="276.0" stroke="#111" stroke-width="1"/>
<line x1="481.6" y1="274" x2="481.6" y2="277.2" stroke="#111" stroke-width="1"/>
<line x1="491.3" y1="274" x2="491.3" y2="276.0" stroke="#111" stroke-width="1"/>
<line x1="496.9" y1="274" x2="496.9" y2="276.0" stroke="#111" stroke-width="1"/>
<line x1="500.9" y1="274" x2="500.9" y2="276.0" stroke="#111" stroke-width="1"/>
<line x1="504.0" y1="274" x2="504.0" y2="276.0" stroke="#111" stroke-width="1"/>
<line x1="506.5" y1="274" x2="506.5" y2="276.0" stroke="#111" stroke-width="1"/>
<line x1="508.6" y1="274" x2="508.6" y2="276.0" stroke="#111" stroke-width="1"/>
<line x1="510.5" y1="274" x2="510.5" y2="276.0" stroke="#111" stroke-width="1"/>
<line x1="512.1" y1="274" x2="512.1" y2="276.0" stroke="#111" stroke-width="1"/>
<line x1="513.6" y1="274" x2="513.6" y2="277.2" stroke="#111" stroke-width="1"/>
<text x="387.4" y="285.6" font-size="6.6" text-anchor="end" stroke="#222" stroke-width="0.32" fill="#111">10</text>
<text x="387.7" y="281.6" font-size="6.0" stroke="#222" stroke-width="0.32" fill="#111">0</text>
<text x="419.4" y="285.6" font-size="6.6" text-anchor="end" stroke="#222" stroke-width="0.32" fill="#111">10</text>
<text x="419.7" y="281.6" font-size="6.0" stroke="#222" stroke-width="0.32" fill="#111">1</text>
<text x="451.3" y="285.6" font-size="6.6" text-anchor="end" stroke="#222" stroke-width="0.32" fill="#111">10</text>
<text x="451.6" y="281.6" font-size="6.0" stroke="#222" stroke-width="0.32" fill="#111">2</text>
<text x="483.3" y="285.6" font-size="6.6" text-anchor="end" stroke="#222" stroke-width="0.32" fill="#111">10</text>
<text x="483.6" y="281.6" font-size="6.0" stroke="#222" stroke-width="0.32" fill="#111">3</text>
<text x="515.3" y="285.6" font-size="6.6" text-anchor="end" stroke="#222" stroke-width="0.32" fill="#111">10</text>
<text x="515.6" y="281.6" font-size="6.0" stroke="#222" stroke-width="0.32" fill="#111">4</text>
<line x1="422.7" y1="184.6" x2="422.7" y2="197.7" stroke="#111" stroke-width="1.3"/>
<line x1="422.7" y1="191.3" x2="513.6" y2="191.3" stroke="#111" stroke-width="1.4"/>
<text x="468.2" y="199.6" font-size="7.7" font-weight="bold" letter-spacing="0.9" fill="#111">M1</text>
<polygon points="58.0,409.5 58.0,409.0 64.4,406.7 67.7,402.3 69.9,399.0 72.1,396.8 74.3,397.3 76.4,400.1 78.6,401.2 80.8,400.1 83.0,396.8 85.2,393.5 87.4,390.2 89.6,389.1 91.8,386.9 92.9,384.2 95.1,388.0 96.6,384.8 98.2,391.2 99.8,388.0 101.3,393.3 104.0,386.9 106.6,393.3 109.3,389.0 110.9,395.4 113.5,394.3 115.1,398.0 117.2,399.1 120.4,401.2 123.6,403.3 126.7,405.4 131.0,407.6 135.2,408.6 142.6,409.0 142.6,409.5" fill="#6e6e6e" stroke="#151515" stroke-width="1.25" stroke-linejoin="round"/>
<polyline points="55.0,409.0 61.1,406.7 63.3,401.2 65.5,396.8 67.7,391.3 69.3,386.9 71.0,381.4 72.1,378.2 73.2,373.2 75.4,372.7 77.5,373.8 79.7,372.7 81.4,377.1 83.0,379.3 84.1,383.6 85.8,385.8 86.9,391.3 88.0,395.0 90.0,398.0 95.0,403.0 100.0,406.0 108.0,408.0" fill="none" stroke="#2e2e2e" stroke-width="2.3" stroke-linejoin="miter" stroke-miterlimit="2"/>
<rect x="46.4" y="302.6" width="126.29999999999998" height="106.89999999999998" fill="none" stroke="#111" stroke-width="1.3"/>
<line x1="43.2" y1="409.5" x2="46.4" y2="409.5" stroke="#111" stroke-width="1"/>
<text x="0" y="0" transform="translate(40.0,409.2) rotate(-90)" font-size="6.5" text-anchor="middle" stroke="#222" stroke-width="0.32" fill="#111">0</text>
<line x1="44.4" y1="405.2" x2="46.4" y2="405.2" stroke="#111" stroke-width="1"/>
<line x1="44.4" y1="400.9" x2="46.4" y2="400.9" stroke="#111" stroke-width="1"/>
<line x1="44.4" y1="396.7" x2="46.4" y2="396.7" stroke="#111" stroke-width="1"/>
<line x1="44.4" y1="392.4" x2="46.4" y2="392.4" stroke="#111" stroke-width="1"/>
<line x1="43.2" y1="388.1" x2="46.4" y2="388.1" stroke="#111" stroke-width="1"/>
<text x="0" y="0" transform="translate(40.0,387.8) rotate(-90)" font-size="6.5" text-anchor="middle" stroke="#222" stroke-width="0.32" fill="#111">40</text>
<line x1="44.4" y1="383.8" x2="46.4" y2="383.8" stroke="#111" stroke-width="1"/>
<line x1="44.4" y1="379.6" x2="46.4" y2="379.6" stroke="#111" stroke-width="1"/>
<line x1="44.4" y1="375.3" x2="46.4" y2="375.3" stroke="#111" stroke-width="1"/>
<line x1="44.4" y1="371.0" x2="46.4" y2="371.0" stroke="#111" stroke-width="1"/>
<line x1="43.2" y1="366.7" x2="46.4" y2="366.7" stroke="#111" stroke-width="1"/>
<text x="0" y="0" transform="translate(40.0,366.4) rotate(-90)" font-size="6.5" text-anchor="middle" stroke="#222" stroke-width="0.32" fill="#111">80</text>
<line x1="44.4" y1="362.5" x2="46.4" y2="362.5" stroke="#111" stroke-width="1"/>
<line x1="44.4" y1="358.2" x2="46.4" y2="358.2" stroke="#111" stroke-width="1"/>
<line x1="44.4" y1="353.9" x2="46.4" y2="353.9" stroke="#111" stroke-width="1"/>
<line x1="44.4" y1="349.6" x2="46.4" y2="349.6" stroke="#111" stroke-width="1"/>
<line x1="43.2" y1="345.4" x2="46.4" y2="345.4" stroke="#111" stroke-width="1"/>
<text x="0" y="0" transform="translate(40.0,345.1) rotate(-90)" font-size="6.5" text-anchor="middle" stroke="#222" stroke-width="0.32" fill="#111">120</text>
<line x1="44.4" y1="341.1" x2="46.4" y2="341.1" stroke="#111" stroke-width="1"/>
<line x1="44.4" y1="336.8" x2="46.4" y2="336.8" stroke="#111" stroke-width="1"/>
<line x1="44.4" y1="332.5" x2="46.4" y2="332.5" stroke="#111" stroke-width="1"/>
<line x1="44.4" y1="328.3" x2="46.4" y2="328.3" stroke="#111" stroke-width="1"/>
<line x1="43.2" y1="324.0" x2="46.4" y2="324.0" stroke="#111" stroke-width="1"/>
<text x="0" y="0" transform="translate(40.0,323.7) rotate(-90)" font-size="6.5" text-anchor="middle" stroke="#222" stroke-width="0.32" fill="#111">160</text>
<line x1="44.4" y1="319.7" x2="46.4" y2="319.7" stroke="#111" stroke-width="1"/>
<line x1="44.4" y1="315.4" x2="46.4" y2="315.4" stroke="#111" stroke-width="1"/>
<line x1="44.4" y1="311.2" x2="46.4" y2="311.2" stroke="#111" stroke-width="1"/>
<line x1="44.4" y1="306.9" x2="46.4" y2="306.9" stroke="#111" stroke-width="1"/>
<line x1="43.2" y1="302.6" x2="46.4" y2="302.6" stroke="#111" stroke-width="1"/>
<text x="0" y="0" transform="translate(40.0,302.3) rotate(-90)" font-size="6.5" text-anchor="middle" stroke="#222" stroke-width="0.32" fill="#111">200</text>
<text x="0" y="0" transform="translate(32.0,355.8) rotate(-90)" font-size="6.8" text-anchor="middle" stroke="#222" stroke-width="0.32" fill="#111">Counts</text>
<line x1="46.4" y1="409.5" x2="46.4" y2="412.7" stroke="#111" stroke-width="1"/>
<line x1="55.9" y1="409.5" x2="55.9" y2="411.5" stroke="#111" stroke-width="1"/>
<line x1="61.5" y1="409.5" x2="61.5" y2="411.5" stroke="#111" stroke-width="1"/>
<line x1="65.4" y1="409.5" x2="65.4" y2="411.5" stroke="#111" stroke-width="1"/>
<line x1="68.5" y1="409.5" x2="68.5" y2="411.5" stroke="#111" stroke-width="1"/>
<line x1="71.0" y1="409.5" x2="71.0" y2="411.5" stroke="#111" stroke-width="1"/>
<line x1="73.1" y1="409.5" x2="73.1" y2="411.5" stroke="#111" stroke-width="1"/>
<line x1="74.9" y1="409.5" x2="74.9" y2="411.5" stroke="#111" stroke-width="1"/>
<line x1="76.5" y1="409.5" x2="76.5" y2="411.5" stroke="#111" stroke-width="1"/>
<line x1="78.0" y1="409.5" x2="78.0" y2="412.7" stroke="#111" stroke-width="1"/>
<line x1="87.5" y1="409.5" x2="87.5" y2="411.5" stroke="#111" stroke-width="1"/>
<line x1="93.0" y1="409.5" x2="93.0" y2="411.5" stroke="#111" stroke-width="1"/>
<line x1="97.0" y1="409.5" x2="97.0" y2="411.5" stroke="#111" stroke-width="1"/>
<line x1="100.0" y1="409.5" x2="100.0" y2="411.5" stroke="#111" stroke-width="1"/>
<line x1="102.5" y1="409.5" x2="102.5" y2="411.5" stroke="#111" stroke-width="1"/>
<line x1="104.7" y1="409.5" x2="104.7" y2="411.5" stroke="#111" stroke-width="1"/>
<line x1="106.5" y1="409.5" x2="106.5" y2="411.5" stroke="#111" stroke-width="1"/>
<line x1="108.1" y1="409.5" x2="108.1" y2="411.5" stroke="#111" stroke-width="1"/>
<line x1="109.5" y1="409.5" x2="109.5" y2="412.7" stroke="#111" stroke-width="1"/>
<line x1="119.1" y1="409.5" x2="119.1" y2="411.5" stroke="#111" stroke-width="1"/>
<line x1="124.6" y1="409.5" x2="124.6" y2="411.5" stroke="#111" stroke-width="1"/>
<line x1="128.6" y1="409.5" x2="128.6" y2="411.5" stroke="#111" stroke-width="1"/>
<line x1="131.6" y1="409.5" x2="131.6" y2="411.5" stroke="#111" stroke-width="1"/>
<line x1="134.1" y1="409.5" x2="134.1" y2="411.5" stroke="#111" stroke-width="1"/>
<line x1="136.2" y1="409.5" x2="136.2" y2="411.5" stroke="#111" stroke-width="1"/>
<line x1="138.1" y1="409.5" x2="138.1" y2="411.5" stroke="#111" stroke-width="1"/>
<line x1="139.7" y1="409.5" x2="139.7" y2="411.5" stroke="#111" stroke-width="1"/>
<line x1="141.1" y1="409.5" x2="141.1" y2="412.7" stroke="#111" stroke-width="1"/>
<line x1="150.6" y1="409.5" x2="150.6" y2="411.5" stroke="#111" stroke-width="1"/>
<line x1="156.2" y1="409.5" x2="156.2" y2="411.5" stroke="#111" stroke-width="1"/>
<line x1="160.1" y1="409.5" x2="160.1" y2="411.5" stroke="#111" stroke-width="1"/>
<line x1="163.2" y1="409.5" x2="163.2" y2="411.5" stroke="#111" stroke-width="1"/>
<line x1="165.7" y1="409.5" x2="165.7" y2="411.5" stroke="#111" stroke-width="1"/>
<line x1="167.8" y1="409.5" x2="167.8" y2="411.5" stroke="#111" stroke-width="1"/>
<line x1="169.6" y1="409.5" x2="169.6" y2="411.5" stroke="#111" stroke-width="1"/>
<line x1="171.3" y1="409.5" x2="171.3" y2="411.5" stroke="#111" stroke-width="1"/>
<line x1="172.7" y1="409.5" x2="172.7" y2="412.7" stroke="#111" stroke-width="1"/>
<text x="48.1" y="420.4" font-size="6.6" text-anchor="end" stroke="#222" stroke-width="0.32" fill="#111">10</text>
<text x="48.4" y="416.4" font-size="6.0" stroke="#222" stroke-width="0.32" fill="#111">0</text>
<text x="79.7" y="420.4" font-size="6.6" text-anchor="end" stroke="#222" stroke-width="0.32" fill="#111">10</text>
<text x="80.0" y="416.4" font-size="6.0" stroke="#222" stroke-width="0.32" fill="#111">1</text>
<text x="111.2" y="420.4" font-size="6.6" text-anchor="end" stroke="#222" stroke-width="0.32" fill="#111">10</text>
<text x="111.5" y="416.4" font-size="6.0" stroke="#222" stroke-width="0.32" fill="#111">2</text>
<text x="142.8" y="420.4" font-size="6.6" text-anchor="end" stroke="#222" stroke-width="0.32" fill="#111">10</text>
<text x="143.1" y="416.4" font-size="6.0" stroke="#222" stroke-width="0.32" fill="#111">3</text>
<text x="174.4" y="420.4" font-size="6.6" text-anchor="end" stroke="#222" stroke-width="0.32" fill="#111">10</text>
<text x="174.7" y="416.4" font-size="6.0" stroke="#222" stroke-width="0.32" fill="#111">4</text>
<text x="109.5" y="427.1" font-size="6.6" text-anchor="middle" stroke="#222" stroke-width="0.32" fill="#111">FL2-H</text>
<line x1="87.1" y1="348.2" x2="87.1" y2="361" stroke="#111" stroke-width="1.3"/>
<line x1="87.1" y1="354.2" x2="172.7" y2="354.2" stroke="#111" stroke-width="1.4"/>
<text x="130.2" y="362.4" font-size="7.7" font-weight="bold" letter-spacing="0.9" fill="#111">M1</text>
<polygon points="218.0,408.8 218.0,408.8 221.6,408.3 227.1,405.6 231.4,402.3 234.7,397.9 235.8,391.3 237.5,397.9 239.1,392.4 241.3,386.9 243.5,382.5 245.2,377.1 246.8,372.7 247.9,379.3 250.1,374.9 251.7,381.4 253.4,376.0 255.6,367.2 257.0,366.9 259.4,368.4 262.5,365.3 264.8,359.8 266.4,356.7 268.0,352.8 269.5,360.6 271.9,366.9 274.2,373.1 276.6,377.8 278.1,384.1 279.7,390.3 282.0,395.0 285.2,398.9 289.1,403.6 293.0,406.7 296.9,408.3 305.0,408.8 305.0,408.8" fill="#6a6a6a" stroke="#151515" stroke-width="1.25" stroke-linejoin="round"/>
<polyline points="220.5,407.8 224.9,405.6 228.2,403.4 230.9,401.2 232.5,395.7 233.6,390.2 235.3,385.8 236.9,379.3 238.6,371.6 239.9,363.8 241.1,358.0 241.7,352.1 242.8,347.5 245.2,346.3 246.3,341.7 247.5,335.8 248.6,335.2 249.8,337.0 251.0,344.0 252.1,351.0 253.3,355.6 254.5,360.3 255.6,365.0 256.8,368.5 258.0,375.0 260.0,385.0 263.0,395.0 268.0,403.0 275.0,407.5" fill="none" stroke="#2e2e2e" stroke-width="2.1" stroke-linejoin="miter" stroke-miterlimit="2"/>
<rect x="215.1" y="302.6" width="128.9" height="106.19999999999999" fill="none" stroke="#111" stroke-width="1.3"/>
<line x1="211.9" y1="408.8" x2="215.1" y2="408.8" stroke="#111" stroke-width="1"/>
<text x="0" y="0" transform="translate(210.0,408.5) rotate(-90)" font-size="6.5" text-anchor="middle" stroke="#222" stroke-width="0.32" fill="#111">0</text>
<line x1="213.1" y1="404.6" x2="215.1" y2="404.6" stroke="#111" stroke-width="1"/>
<line x1="213.1" y1="400.3" x2="215.1" y2="400.3" stroke="#111" stroke-width="1"/>
<line x1="213.1" y1="396.1" x2="215.1" y2="396.1" stroke="#111" stroke-width="1"/>
<line x1="213.1" y1="391.8" x2="215.1" y2="391.8" stroke="#111" stroke-width="1"/>
<line x1="211.9" y1="387.6" x2="215.1" y2="387.6" stroke="#111" stroke-width="1"/>
<text x="0" y="0" transform="translate(210.0,387.3) rotate(-90)" font-size="6.5" text-anchor="middle" stroke="#222" stroke-width="0.32" fill="#111">20</text>
<line x1="213.1" y1="383.3" x2="215.1" y2="383.3" stroke="#111" stroke-width="1"/>
<line x1="213.1" y1="379.1" x2="215.1" y2="379.1" stroke="#111" stroke-width="1"/>
<line x1="213.1" y1="374.8" x2="215.1" y2="374.8" stroke="#111" stroke-width="1"/>
<line x1="213.1" y1="370.6" x2="215.1" y2="370.6" stroke="#111" stroke-width="1"/>
<line x1="211.9" y1="366.3" x2="215.1" y2="366.3" stroke="#111" stroke-width="1"/>
<text x="0" y="0" transform="translate(210.0,366.0) rotate(-90)" font-size="6.5" text-anchor="middle" stroke="#222" stroke-width="0.32" fill="#111">40</text>
<line x1="213.1" y1="362.1" x2="215.1" y2="362.1" stroke="#111" stroke-width="1"/>
<line x1="213.1" y1="357.8" x2="215.1" y2="357.8" stroke="#111" stroke-width="1"/>
<line x1="213.1" y1="353.6" x2="215.1" y2="353.6" stroke="#111" stroke-width="1"/>
<line x1="213.1" y1="349.3" x2="215.1" y2="349.3" stroke="#111" stroke-width="1"/>
<line x1="211.9" y1="345.1" x2="215.1" y2="345.1" stroke="#111" stroke-width="1"/>
<text x="0" y="0" transform="translate(210.0,344.8) rotate(-90)" font-size="6.5" text-anchor="middle" stroke="#222" stroke-width="0.32" fill="#111">60</text>
<line x1="213.1" y1="340.8" x2="215.1" y2="340.8" stroke="#111" stroke-width="1"/>
<line x1="213.1" y1="336.6" x2="215.1" y2="336.6" stroke="#111" stroke-width="1"/>
<line x1="213.1" y1="332.3" x2="215.1" y2="332.3" stroke="#111" stroke-width="1"/>
<line x1="213.1" y1="328.1" x2="215.1" y2="328.1" stroke="#111" stroke-width="1"/>
<line x1="211.9" y1="323.8" x2="215.1" y2="323.8" stroke="#111" stroke-width="1"/>
<text x="0" y="0" transform="translate(210.0,323.5) rotate(-90)" font-size="6.5" text-anchor="middle" stroke="#222" stroke-width="0.32" fill="#111">80</text>
<line x1="213.1" y1="319.6" x2="215.1" y2="319.6" stroke="#111" stroke-width="1"/>
<line x1="213.1" y1="315.3" x2="215.1" y2="315.3" stroke="#111" stroke-width="1"/>
<line x1="213.1" y1="311.1" x2="215.1" y2="311.1" stroke="#111" stroke-width="1"/>
<line x1="213.1" y1="306.8" x2="215.1" y2="306.8" stroke="#111" stroke-width="1"/>
<line x1="211.9" y1="302.6" x2="215.1" y2="302.6" stroke="#111" stroke-width="1"/>
<text x="0" y="0" transform="translate(210.0,302.3) rotate(-90)" font-size="6.5" text-anchor="middle" stroke="#222" stroke-width="0.32" fill="#111">100</text>
<text x="0" y="0" transform="translate(202.0,356.0) rotate(-90)" font-size="6.8" text-anchor="middle" stroke="#222" stroke-width="0.32" fill="#111">Counts</text>
<line x1="215.1" y1="408.8" x2="215.1" y2="412.0" stroke="#111" stroke-width="1"/>
<line x1="224.8" y1="408.8" x2="224.8" y2="410.8" stroke="#111" stroke-width="1"/>
<line x1="230.5" y1="408.8" x2="230.5" y2="410.8" stroke="#111" stroke-width="1"/>
<line x1="234.5" y1="408.8" x2="234.5" y2="410.8" stroke="#111" stroke-width="1"/>
<line x1="237.6" y1="408.8" x2="237.6" y2="410.8" stroke="#111" stroke-width="1"/>
<line x1="240.2" y1="408.8" x2="240.2" y2="410.8" stroke="#111" stroke-width="1"/>
<line x1="242.3" y1="408.8" x2="242.3" y2="410.8" stroke="#111" stroke-width="1"/>
<line x1="244.2" y1="408.8" x2="244.2" y2="410.8" stroke="#111" stroke-width="1"/>
<line x1="245.9" y1="408.8" x2="245.9" y2="410.8" stroke="#111" stroke-width="1"/>
<line x1="247.3" y1="408.8" x2="247.3" y2="412.0" stroke="#111" stroke-width="1"/>
<line x1="257.0" y1="408.8" x2="257.0" y2="410.8" stroke="#111" stroke-width="1"/>
<line x1="262.7" y1="408.8" x2="262.7" y2="410.8" stroke="#111" stroke-width="1"/>
<line x1="266.7" y1="408.8" x2="266.7" y2="410.8" stroke="#111" stroke-width="1"/>
<line x1="269.8" y1="408.8" x2="269.8" y2="410.8" stroke="#111" stroke-width="1"/>
<line x1="272.4" y1="408.8" x2="272.4" y2="410.8" stroke="#111" stroke-width="1"/>
<line x1="274.6" y1="408.8" x2="274.6" y2="410.8" stroke="#111" stroke-width="1"/>
<line x1="276.4" y1="408.8" x2="276.4" y2="410.8" stroke="#111" stroke-width="1"/>
<line x1="278.1" y1="408.8" x2="278.1" y2="410.8" stroke="#111" stroke-width="1"/>
<line x1="279.6" y1="408.8" x2="279.6" y2="412.0" stroke="#111" stroke-width="1"/>
<line x1="289.3" y1="408.8" x2="289.3" y2="410.8" stroke="#111" stroke-width="1"/>
<line x1="294.9" y1="408.8" x2="294.9" y2="410.8" stroke="#111" stroke-width="1"/>
<line x1="299.0" y1="408.8" x2="299.0" y2="410.8" stroke="#111" stroke-width="1"/>
<line x1="302.1" y1="408.8" x2="302.1" y2="410.8" stroke="#111" stroke-width="1"/>
<line x1="304.6" y1="408.8" x2="304.6" y2="410.8" stroke="#111" stroke-width="1"/>
<line x1="306.8" y1="408.8" x2="306.8" y2="410.8" stroke="#111" stroke-width="1"/>
<line x1="308.7" y1="408.8" x2="308.7" y2="410.8" stroke="#111" stroke-width="1"/>
<line x1="310.3" y1="408.8" x2="310.3" y2="410.8" stroke="#111" stroke-width="1"/>
<line x1="311.8" y1="408.8" x2="311.8" y2="412.0" stroke="#111" stroke-width="1"/>
<line x1="321.5" y1="408.8" x2="321.5" y2="410.8" stroke="#111" stroke-width="1"/>
<line x1="327.2" y1="408.8" x2="327.2" y2="410.8" stroke="#111" stroke-width="1"/>
<line x1="331.2" y1="408.8" x2="331.2" y2="410.8" stroke="#111" stroke-width="1"/>
<line x1="334.3" y1="408.8" x2="334.3" y2="410.8" stroke="#111" stroke-width="1"/>
<line x1="336.9" y1="408.8" x2="336.9" y2="410.8" stroke="#111" stroke-width="1"/>
<line x1="339.0" y1="408.8" x2="339.0" y2="410.8" stroke="#111" stroke-width="1"/>
<line x1="340.9" y1="408.8" x2="340.9" y2="410.8" stroke="#111" stroke-width="1"/>
<line x1="342.5" y1="408.8" x2="342.5" y2="410.8" stroke="#111" stroke-width="1"/>
<line x1="344" y1="408.8" x2="344" y2="412.0" stroke="#111" stroke-width="1"/>
<text x="216.8" y="420.3" font-size="6.6" text-anchor="end" stroke="#222" stroke-width="0.32" fill="#111">10</text>
<text x="217.1" y="416.3" font-size="6.0" stroke="#222" stroke-width="0.32" fill="#111">0</text>
<text x="249.0" y="420.3" font-size="6.6" text-anchor="end" stroke="#222" stroke-width="0.32" fill="#111">10</text>
<text x="249.3" y="416.3" font-size="6.0" stroke="#222" stroke-width="0.32" fill="#111">1</text>
<text x="281.2" y="420.3" font-size="6.6" text-anchor="end" stroke="#222" stroke-width="0.32" fill="#111">10</text>
<text x="281.6" y="416.3" font-size="6.0" stroke="#222" stroke-width="0.32" fill="#111">2</text>
<text x="313.5" y="420.3" font-size="6.6" text-anchor="end" stroke="#222" stroke-width="0.32" fill="#111">10</text>
<text x="313.8" y="416.3" font-size="6.0" stroke="#222" stroke-width="0.32" fill="#111">3</text>
<text x="345.7" y="420.3" font-size="6.6" text-anchor="end" stroke="#222" stroke-width="0.32" fill="#111">10</text>
<text x="346.0" y="416.3" font-size="6.0" stroke="#222" stroke-width="0.32" fill="#111">4</text>
<text x="279.6" y="427.1" font-size="6.6" text-anchor="middle" stroke="#222" stroke-width="0.32" fill="#111">FL2-H</text>
<line x1="258.2" y1="332.4" x2="258.2" y2="344.9" stroke="#111" stroke-width="1.3"/>
<line x1="258.2" y1="338.5" x2="344" y2="338.5" stroke="#111" stroke-width="1.4"/>
<text x="299.4" y="346.6" font-size="7.7" font-weight="bold" letter-spacing="0.9" fill="#111">M1</text>
<polygon points="387.0,409.5 387.0,409.5 389.0,405.5 393.0,397.6 395.6,394.9 398.3,389.6 401.0,388.2 403.6,384.3 405.6,385.6 407.6,394.9 411.6,394.9 415.0,392.0 420.0,393.0 425.0,388.0 426.3,387.5 430.0,388.1 433.8,388.8 437.5,391.3 440.0,393.8 442.5,388.8 445.0,387.5 447.5,388.1 450.0,386.3 453.1,383.8 455.6,387.5 458.1,385.6 460.6,388.8 463.1,386.3 465.0,390.0 466.9,393.8 468.8,396.3 470.6,398.8 472.5,403.1 475.0,405.6 477.5,408.1 478.8,409.5 478.8,409.5" fill="#828282" stroke="#151515" stroke-width="1.25" stroke-linejoin="round"/>
<polygon points="403.6,384.3 404.3,373.6 406.3,371.6 407.6,379 409.6,376.3 411.6,381.6 413.3,371.6 414.9,380.3 416.9,371.6 418.9,380.3 422.2,374.3 424.2,386.9 426.3,387.5 425,388 420,393 415,392 411.6,394.9 407.6,394.9 405.6,385.6" fill="#444"/>
<polyline points="387.0,409.0 389.0,392.2 391.0,388.2 393.0,380.3 395.0,376.3 396.7,362.3 398.3,368.3 399.6,366.3 401.0,369.6 402.3,375.0 404.3,373.6 406.3,371.6 407.6,379.0 409.6,376.3 411.6,381.6 413.3,371.6 414.9,380.3 416.9,371.6 418.9,380.3 422.2,374.3 424.2,386.9 426.2,388.2 429.5,387.6 432.9,392.2 436.0,396.0 440.0,400.0 444.0,407.5 450.0,409.0" fill="none" stroke="#2e2e2e" stroke-width="2.0" stroke-linejoin="miter" stroke-miterlimit="2"/>
<rect x="386.3" y="302" width="127.69999999999999" height="107.5" fill="none" stroke="#111" stroke-width="1.3"/>
<line x1="383.1" y1="409.5" x2="386.3" y2="409.5" stroke="#111" stroke-width="1"/>
<text x="0" y="0" transform="translate(380.4,409.2) rotate(-90)" font-size="6.5" text-anchor="middle" stroke="#222" stroke-width="0.32" fill="#111">0</text>
<line x1="384.3" y1="405.2" x2="386.3" y2="405.2" stroke="#111" stroke-width="1"/>
<line x1="384.3" y1="400.9" x2="386.3" y2="400.9" stroke="#111" stroke-width="1"/>
<line x1="384.3" y1="396.6" x2="386.3" y2="396.6" stroke="#111" stroke-width="1"/>
<line x1="384.3" y1="392.3" x2="386.3" y2="392.3" stroke="#111" stroke-width="1"/>
<line x1="383.1" y1="388.0" x2="386.3" y2="388.0" stroke="#111" stroke-width="1"/>
<text x="0" y="0" transform="translate(380.4,387.7) rotate(-90)" font-size="6.5" text-anchor="middle" stroke="#222" stroke-width="0.32" fill="#111">20</text>
<line x1="384.3" y1="383.7" x2="386.3" y2="383.7" stroke="#111" stroke-width="1"/>
<line x1="384.3" y1="379.4" x2="386.3" y2="379.4" stroke="#111" stroke-width="1"/>
<line x1="384.3" y1="375.1" x2="386.3" y2="375.1" stroke="#111" stroke-width="1"/>
<line x1="384.3" y1="370.8" x2="386.3" y2="370.8" stroke="#111" stroke-width="1"/>
<line x1="383.1" y1="366.5" x2="386.3" y2="366.5" stroke="#111" stroke-width="1"/>
<text x="0" y="0" transform="translate(380.4,366.2) rotate(-90)" font-size="6.5" text-anchor="middle" stroke="#222" stroke-width="0.32" fill="#111">40</text>
<line x1="384.3" y1="362.2" x2="386.3" y2="362.2" stroke="#111" stroke-width="1"/>
<line x1="384.3" y1="357.9" x2="386.3" y2="357.9" stroke="#111" stroke-width="1"/>
<line x1="384.3" y1="353.6" x2="386.3" y2="353.6" stroke="#111" stroke-width="1"/>
<line x1="384.3" y1="349.3" x2="386.3" y2="349.3" stroke="#111" stroke-width="1"/>
<line x1="383.1" y1="345.0" x2="386.3" y2="345.0" stroke="#111" stroke-width="1"/>
<text x="0" y="0" transform="translate(380.4,344.7) rotate(-90)" font-size="6.5" text-anchor="middle" stroke="#222" stroke-width="0.32" fill="#111">60</text>
<line x1="384.3" y1="340.7" x2="386.3" y2="340.7" stroke="#111" stroke-width="1"/>
<line x1="384.3" y1="336.4" x2="386.3" y2="336.4" stroke="#111" stroke-width="1"/>
<line x1="384.3" y1="332.1" x2="386.3" y2="332.1" stroke="#111" stroke-width="1"/>
<line x1="384.3" y1="327.8" x2="386.3" y2="327.8" stroke="#111" stroke-width="1"/>
<line x1="383.1" y1="323.5" x2="386.3" y2="323.5" stroke="#111" stroke-width="1"/>
<text x="0" y="0" transform="translate(380.4,323.2) rotate(-90)" font-size="6.5" text-anchor="middle" stroke="#222" stroke-width="0.32" fill="#111">80</text>
<line x1="384.3" y1="319.2" x2="386.3" y2="319.2" stroke="#111" stroke-width="1"/>
<line x1="384.3" y1="314.9" x2="386.3" y2="314.9" stroke="#111" stroke-width="1"/>
<line x1="384.3" y1="310.6" x2="386.3" y2="310.6" stroke="#111" stroke-width="1"/>
<line x1="384.3" y1="306.3" x2="386.3" y2="306.3" stroke="#111" stroke-width="1"/>
<line x1="383.1" y1="302.0" x2="386.3" y2="302.0" stroke="#111" stroke-width="1"/>
<text x="0" y="0" transform="translate(380.4,301.7) rotate(-90)" font-size="6.5" text-anchor="middle" stroke="#222" stroke-width="0.32" fill="#111">100</text>
<text x="0" y="0" transform="translate(374.3,355.8) rotate(-90)" font-size="6.8" text-anchor="middle" stroke="#222" stroke-width="0.32" fill="#111">Counts</text>
<line x1="386.3" y1="409.5" x2="386.3" y2="412.7" stroke="#111" stroke-width="1"/>
<line x1="395.9" y1="409.5" x2="395.9" y2="411.5" stroke="#111" stroke-width="1"/>
<line x1="401.5" y1="409.5" x2="401.5" y2="411.5" stroke="#111" stroke-width="1"/>
<line x1="405.5" y1="409.5" x2="405.5" y2="411.5" stroke="#111" stroke-width="1"/>
<line x1="408.6" y1="409.5" x2="408.6" y2="411.5" stroke="#111" stroke-width="1"/>
<line x1="411.1" y1="409.5" x2="411.1" y2="411.5" stroke="#111" stroke-width="1"/>
<line x1="413.3" y1="409.5" x2="413.3" y2="411.5" stroke="#111" stroke-width="1"/>
<line x1="415.1" y1="409.5" x2="415.1" y2="411.5" stroke="#111" stroke-width="1"/>
<line x1="416.8" y1="409.5" x2="416.8" y2="411.5" stroke="#111" stroke-width="1"/>
<line x1="418.2" y1="409.5" x2="418.2" y2="412.7" stroke="#111" stroke-width="1"/>
<line x1="427.8" y1="409.5" x2="427.8" y2="411.5" stroke="#111" stroke-width="1"/>
<line x1="433.5" y1="409.5" x2="433.5" y2="411.5" stroke="#111" stroke-width="1"/>
<line x1="437.4" y1="409.5" x2="437.4" y2="411.5" stroke="#111" stroke-width="1"/>
<line x1="440.5" y1="409.5" x2="440.5" y2="411.5" stroke="#111" stroke-width="1"/>
<line x1="443.1" y1="409.5" x2="443.1" y2="411.5" stroke="#111" stroke-width="1"/>
<line x1="445.2" y1="409.5" x2="445.2" y2="411.5" stroke="#111" stroke-width="1"/>
<line x1="447.1" y1="409.5" x2="447.1" y2="411.5" stroke="#111" stroke-width="1"/>
<line x1="448.7" y1="409.5" x2="448.7" y2="411.5" stroke="#111" stroke-width="1"/>
<line x1="450.1" y1="409.5" x2="450.1" y2="412.7" stroke="#111" stroke-width="1"/>
<line x1="459.8" y1="409.5" x2="459.8" y2="411.5" stroke="#111" stroke-width="1"/>
<line x1="465.4" y1="409.5" x2="465.4" y2="411.5" stroke="#111" stroke-width="1"/>
<line x1="469.4" y1="409.5" x2="469.4" y2="411.5" stroke="#111" stroke-width="1"/>
<line x1="472.5" y1="409.5" x2="472.5" y2="411.5" stroke="#111" stroke-width="1"/>
<line x1="475.0" y1="409.5" x2="475.0" y2="411.5" stroke="#111" stroke-width="1"/>
<line x1="477.1" y1="409.5" x2="477.1" y2="411.5" stroke="#111" stroke-width="1"/>
<line x1="479.0" y1="409.5" x2="479.0" y2="411.5" stroke="#111" stroke-width="1"/>
<line x1="480.6" y1="409.5" x2="480.6" y2="411.5" stroke="#111" stroke-width="1"/>
<line x1="482.1" y1="409.5" x2="482.1" y2="412.7" stroke="#111" stroke-width="1"/>
<line x1="491.7" y1="409.5" x2="491.7" y2="411.5" stroke="#111" stroke-width="1"/>
<line x1="497.3" y1="409.5" x2="497.3" y2="411.5" stroke="#111" stroke-width="1"/>
<line x1="501.3" y1="409.5" x2="501.3" y2="411.5" stroke="#111" stroke-width="1"/>
<line x1="504.4" y1="409.5" x2="504.4" y2="411.5" stroke="#111" stroke-width="1"/>
<line x1="506.9" y1="409.5" x2="506.9" y2="411.5" stroke="#111" stroke-width="1"/>
<line x1="509.1" y1="409.5" x2="509.1" y2="411.5" stroke="#111" stroke-width="1"/>
<line x1="510.9" y1="409.5" x2="510.9" y2="411.5" stroke="#111" stroke-width="1"/>
<line x1="512.5" y1="409.5" x2="512.5" y2="411.5" stroke="#111" stroke-width="1"/>
<line x1="514" y1="409.5" x2="514" y2="412.7" stroke="#111" stroke-width="1"/>
<text x="388.0" y="420.3" font-size="6.6" text-anchor="end" stroke="#222" stroke-width="0.32" fill="#111">10</text>
<text x="388.3" y="416.3" font-size="6.0" stroke="#222" stroke-width="0.32" fill="#111">0</text>
<text x="419.9" y="420.3" font-size="6.6" text-anchor="end" stroke="#222" stroke-width="0.32" fill="#111">10</text>
<text x="420.2" y="416.3" font-size="6.0" stroke="#222" stroke-width="0.32" fill="#111">1</text>
<text x="451.8" y="420.3" font-size="6.6" text-anchor="end" stroke="#222" stroke-width="0.32" fill="#111">10</text>
<text x="452.1" y="416.3" font-size="6.0" stroke="#222" stroke-width="0.32" fill="#111">2</text>
<text x="483.8" y="420.3" font-size="6.6" text-anchor="end" stroke="#222" stroke-width="0.32" fill="#111">10</text>
<text x="484.1" y="416.3" font-size="6.0" stroke="#222" stroke-width="0.32" fill="#111">3</text>
<text x="515.7" y="420.3" font-size="6.6" text-anchor="end" stroke="#222" stroke-width="0.32" fill="#111">10</text>
<text x="516.0" y="416.3" font-size="6.0" stroke="#222" stroke-width="0.32" fill="#111">4</text>
<text x="450.1" y="426.6" font-size="6.6" text-anchor="middle" stroke="#222" stroke-width="0.32" fill="#111">FL2-H</text>
<line x1="430.5" y1="344.2" x2="430.5" y2="356.7" stroke="#111" stroke-width="1.3"/>
<line x1="430.5" y1="350.2" x2="514" y2="350.2" stroke="#111" stroke-width="1.4"/>
<text x="472.0" y="358.4" font-size="7.7" font-weight="bold" letter-spacing="0.9" fill="#111">M1</text>
<text x="0" y="0" transform="translate(74.2,17.9) scale(0.95,1)" font-size="20.4" font-weight="bold" fill="#000">CXCR4</text>
<text x="0" y="0" transform="translate(250.0,16.8) scale(0.955,1)" font-size="20.6" font-weight="bold" fill="#000">CCR5</text>
<text x="0" y="0" transform="translate(423.9,15.1) scale(0.97,1)" font-size="20.0" font-weight="bold" fill="#000">CCR2</text>
<text x="0" y="0" transform="translate(16.1,114.2) rotate(-90)" font-size="19.2" font-weight="bold" letter-spacing="0.35" fill="#000">Lymph</text>
<text x="0" y="0" transform="translate(18.0,279.3) rotate(-90)" font-size="20.0" font-weight="bold" letter-spacing="0" fill="#000">Granulocyte</text>
<text x="0" y="0" transform="translate(19.1,404.0) rotate(-90)" font-size="19.9" font-weight="bold" letter-spacing="0" fill="#000">Monocyte</text>
</svg>
</body></html>
